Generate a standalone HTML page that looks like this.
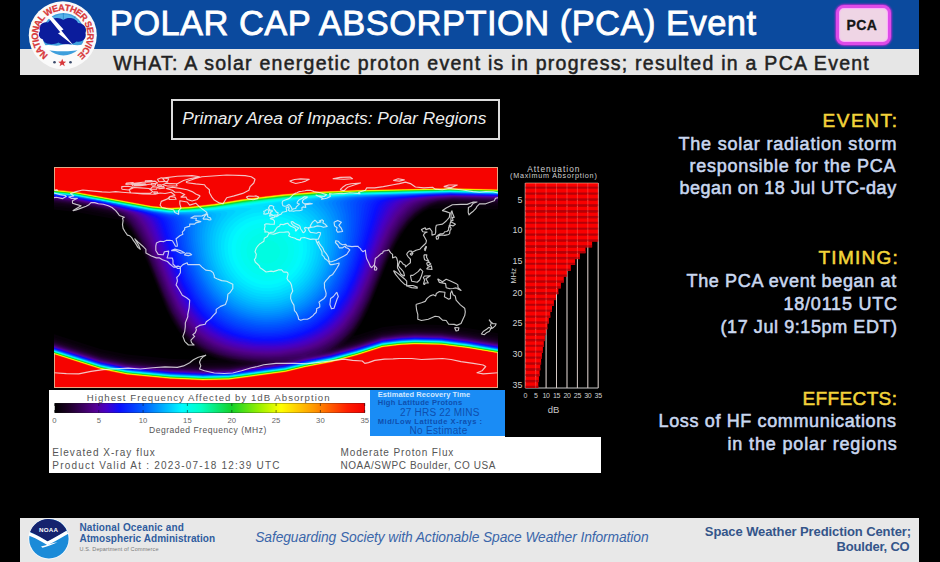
<!DOCTYPE html>
<html><head><meta charset="utf-8">
<style>
*{margin:0;padding:0;box-sizing:border-box}
html,body{width:940px;height:562px;overflow:hidden;background:#000}
body{position:relative;font-family:"Liberation Sans",sans-serif}
.t{position:absolute;white-space:nowrap;line-height:1}
.abs{position:absolute}
#hdr{position:absolute;left:20px;top:0;width:899px;height:49px;background:#0b4a9e}
#sub{position:absolute;left:20px;top:49px;width:899px;height:26px;background:#e6e6e6}
#pca{position:absolute;left:836px;top:5px;width:55px;height:40px;border-radius:8px;background:#efd5e5;border:3px solid #dd4be8;box-shadow:0 0 2px 1px #b02ad0,inset 0 0 1px 1px #ffa8ff}
#impact{position:absolute;left:171px;top:98.5px;width:329px;height:41px;border:2px solid #dcdcdc}
#legend{position:absolute;left:49px;top:390px;width:552px;height:83px;background:#fff}
#cbar{position:absolute;left:54.5px;top:403.4px;width:310.2px;height:9.2px;background:linear-gradient(to right,#000000 0.0%,#1c0026 4.3%,#550091 12.9%,#4600c8 16.6%,#0a0fff 21.0%,#005fff 28.6%,#00b9ff 35.7%,#00faff 40.9%,#00ffc3 47.1%,#14d228 57.1%,#96f000 65.7%,#ffff00 72.9%,#ff9600 83.7%,#ff1e00 94.3%,#f50000 100.0%)}
#rec{position:absolute;left:369.5px;top:390px;width:135.2px;height:46px;background:#1a8cf5}
#blk{position:absolute;left:504.7px;top:390px;width:96.3px;height:46.5px;background:#000}
#foot{position:absolute;left:20px;top:518px;width:899px;height:44px;background:#e8e8e8}
</style></head><body>
<div id="hdr"></div>
<div id="sub"></div>
<svg class="abs" style="left:25px;top:0" width="76" height="72" viewBox="0 0 76 72">
  <circle cx="37.8" cy="35.3" r="34" fill="#fafafa"/>
 <circle cx="38.4" cy="34.2" r="21.2" fill="#3e9fdc"/>
 <path d="M17.3 34.2 A21.2 21.2 0 0 1 59.6 34.2 Z" fill="#56b2e8"/>
 <g stroke="#2a86c8" stroke-width="0.8"><line x1="38.4" y1="13" x2="38.4" y2="24"/><line x1="27" y1="16.5" x2="31" y2="24"/><line x1="50" y1="16.5" x2="46" y2="24"/></g>
 <path d="M15 31 C13 25 18 21 23 22.5 C26 17.5 34 16.5 38.5 20 C43 16.5 51 18 53 23 C59 23 62.5 28.5 60.5 33 C62 38.5 57 43 51.5 41.5 C47 45.5 38 45.5 33.5 42.5 C28 45.5 19 44.5 18 39.5 C13.5 38 13 33.5 15 31 Z" fill="#0b1c9c"/>
 <path d="M18 46 C24 43.5 30 47 36 45 C42 43 50 46.5 58 44.5 L56.5 49 C49 52 28 52 20 49.5 Z" fill="#ffffff"/>
 <path d="M21.5 15.5 L26 15.5 L38.5 29.5 L36.3 30.4 L48.5 45.5 L33 33.3 L35.3 32.2 Z" fill="#ffffff"/>
 <g font-family="Liberation Sans" font-weight="bold" font-size="9.2" fill="#d8383a" stroke="#d8383a" stroke-width="0.25"><text transform="translate(20.79 53.07) rotate(223.7)" text-anchor="middle">N</text><text transform="translate(17.03 48.48) rotate(237.6)" text-anchor="middle">A</text><text transform="translate(14.64 43.60) rotate(250.3)" text-anchor="middle">T</text><text transform="translate(13.72 40.34) rotate(258.2)" text-anchor="middle">I</text><text transform="translate(13.22 36.21) rotate(267.9)" text-anchor="middle">O</text><text transform="translate(13.77 30.04) rotate(282.4)" text-anchor="middle">N</text><text transform="translate(15.73 24.43) rotate(296.2)" text-anchor="middle">A</text><text transform="translate(18.65 19.86) rotate(308.9)" text-anchor="middle">L</text><text transform="translate(24.87 14.37) rotate(328.3)" text-anchor="middle">W</text><text transform="translate(30.99 11.66) rotate(343.9)" text-anchor="middle">E</text><text transform="translate(36.60 10.73) rotate(357.2)" text-anchor="middle">A</text><text transform="translate(42.02 11.06) rotate(369.9)" text-anchor="middle">T</text><text transform="translate(47.24 12.58) rotate(382.6)" text-anchor="middle">H</text><text transform="translate(52.20 15.36) rotate(395.8)" text-anchor="middle">E</text><text transform="translate(56.40 19.19) rotate(409.1)" text-anchor="middle">R</text><text transform="translate(60.40 25.58) rotate(426.7)" text-anchor="middle">S</text><text transform="translate(61.98 30.78) rotate(439.4)" text-anchor="middle">E</text><text transform="translate(62.37 36.45) rotate(452.7)" text-anchor="middle">R</text><text transform="translate(61.45 42.06) rotate(466.0)" text-anchor="middle">V</text><text transform="translate(60.19 45.49) rotate(474.5)" text-anchor="middle">I</text><text transform="translate(58.30 48.91) rotate(483.6)" text-anchor="middle">C</text><text transform="translate(54.62 53.25) rotate(496.9)" text-anchor="middle">E</text></g>
 <path d="M37.2 58.8 L38.3 61.6 L41.2 61.7 L38.9 63.4 L39.8 66.2 L37.2 64.6 L34.6 66.2 L35.5 63.4 L33.2 61.7 L36.1 61.6 Z" fill="#d8383a"/>
 <circle cx="29.5" cy="62.2" r="1.3" fill="#3a4a6a"/><circle cx="45.5" cy="62.2" r="1.3" fill="#3a4a6a"/>
</svg>
<div id="pca"></div>
<div id="impact"></div>
<svg class="abs" style="left:54px;top:167px" width="444" height="221" viewBox="0 0 444 221">
<defs><filter id="mb" x="-5%" y="-5%" width="110%" height="110%" color-interpolation-filters="sRGB"><feGaussianBlur stdDeviation="0.7"/></filter></defs>
<rect width="444" height="221" fill="#000"/>
<g filter="url(#mb)"><path fill="#070009" d="M447.8 225.2L-3.8 225.2L-4.2 224.8L-4.2 188.2L-3.8 167.3L0.2 167.3L47.1 182.2L73.2 187.6L116.2 191.8L148.8 193.2L164.7 192.8L150.8 186.9L140.8 181.0L131.8 173.2L123.8 163.4L117.8 153.7L111.6 141.2L93.5 96.2L86.0 79.8L77.2 64.8L68.8 54.7L66.2 53.1L23.3 45.2L0.2 42.4L-3.8 42.4L-4.2 -3.8L-3.8 -4.2L447.8 -4.2L448.2 -3.8L447.8 42.5L396.2 41.2L375.8 41.7L369.8 44.7L362.9 49.8L357.2 55.1L352.1 61.2L342.2 76.8L334.0 94.2L314.2 143.3L307.8 155.8L299.6 168.8L303.0 168.2L328.2 160.2L345.8 158.1L360.8 157.3L387.2 157.9L413.2 161.1L443.8 166.2L447.8 166.2L448.2 187.2L448.2 224.8L447.8 225.2Z"/><path fill="#0b000f" d="M447.8 225.2L-3.8 225.2L-4.2 224.8L-4.2 188.8L-3.8 170.2L0.2 170.2L47.2 185.2L73.2 190.5L118.1 194.8L149.2 196.1L176.2 195.2L158.2 189.4L146.2 183.6L135.5 175.8L126.2 165.6L119.4 155.2L112.7 142.2L93.3 94.2L85.7 77.8L76.8 62.9L67.8 52.8L62.8 49.6L46.8 46.4L20.8 41.9L-3.8 39.5L-4.2 -3.8L-3.8 -4.2L447.8 -4.2L448.2 -3.8L447.8 39.5L396.2 38.3L381.2 38.7L375.2 40.8L367.8 45.1L361.2 50.2L354.8 56.8L347.4 66.8L340.5 78.8L333.4 94.2L319.2 130.1L312.8 144.8L305.8 157.9L295.6 172.8L302.8 171.2L328.2 163.1L345.8 161.0L360.8 160.2L387.2 160.8L413.2 164.0L443.8 169.1L447.8 169.1L448.2 187.2L448.2 224.8L447.8 225.2Z"/><path fill="#100016" d="M447.8 225.2L-3.8 225.2L-4.2 224.8L-4.2 188.8L-3.8 171.9L0.2 171.9L46.8 186.8L73.2 192.2L115.8 196.3L148.8 197.8L174.8 197.3L182.2 196.3L182.5 195.8L162.2 190.0L149.2 184.5L137.8 176.7L127.8 166.4L120.5 155.8L113.4 142.2L93.6 93.2L85.8 76.4L76.8 61.8L67.8 51.8L61.2 47.7L49.6 45.2L21.0 40.2L-3.8 37.8L-4.2 -3.8L-3.8 -4.2L447.8 -4.2L448.2 -3.8L447.8 37.8L396.2 36.6L383.3 37.2L375.8 39.7L368.4 43.8L361.2 49.2L354.3 56.2L345.9 67.8L338.2 81.9L331.7 96.8L317.3 133.2L309.9 149.2L302.8 161.2L292.6 174.8L292.8 175.3L293.8 175.3L302.8 172.9L328.2 164.8L346.2 162.6L360.8 161.9L387.2 162.5L413.2 165.7L443.8 170.8L447.8 170.8L448.2 187.2L448.2 224.8L447.8 225.2Z"/><path fill="#15001c" d="M447.8 225.2L-3.8 225.2L-4.2 224.8L-4.2 188.2L-3.8 173.1L0.2 173.1L46.8 188.0L73.2 193.4L115.8 197.5L148.8 199.0L174.8 198.5L186.2 197.0L188.3 196.2L165.8 190.4L152.2 185.2L139.8 177.3L129.2 167.1L121.6 156.2L114.1 142.2L93.8 92.2L85.8 75.2L77.2 61.2L68.2 51.2L62.2 47.3L55.8 45.2L21.2 39.1L0.2 36.6L-3.8 36.6L-4.2 -3.8L-3.8 -4.2L447.8 -4.2L448.2 -3.8L447.8 36.6L396.2 35.3L384.4 36.2L376.2 38.7L368.8 42.7L361.2 48.3L354.2 55.3L345.8 66.8L337.9 81.2L331.3 96.2L316.9 132.8L309.1 149.2L301.6 161.8L289.7 176.8L291.2 177.2L302.3 174.2L328.2 166.0L345.8 163.9L360.8 163.1L387.2 163.7L413.2 166.9L443.8 172.0L447.8 172.0L448.2 187.2L448.2 224.8L447.8 225.2Z"/><path fill="#190022" d="M447.8 225.2L-3.8 225.2L-4.2 224.8L-4.2 188.2L-3.8 174.1L0.2 174.1L46.8 188.9L73.2 194.3L115.8 198.5L148.8 200.0L175.2 199.4L191.4 197.2L193.5 196.2L168.8 190.6L154.8 185.6L147.8 181.9L141.5 177.8L135.8 172.9L130.4 167.2L122.4 156.2L114.8 142.2L108.2 127.3L94.0 91.2L86.0 74.2L77.2 60.1L72.8 54.6L68.2 50.3L62.7 46.8L55.4 44.2L21.2 38.1L0.2 35.6L-3.8 35.6L-4.2 -3.8L-3.8 -4.2L447.8 -4.2L448.2 -3.8L447.8 35.7L396.2 34.4L384.8 35.5L376.8 37.8L368.8 41.8L361.2 47.3L354.2 54.2L345.8 65.5L337.8 80.1L331.1 95.2L316.2 132.7L308.1 149.8L299.8 163.0L286.8 178.2L289.2 178.6L302.1 175.2L328.2 167.0L345.8 164.8L360.8 164.0L387.2 164.6L413.2 167.8L443.8 172.9L447.8 172.9L448.2 187.2L448.2 224.8L447.8 225.2Z"/><path fill="#1e002a" d="M447.8 225.2L-3.8 225.2L-4.2 224.8L-4.2 188.8L-3.8 174.8L0.2 174.8L47.0 189.8L73.2 195.1L115.8 199.2L149.2 200.8L175.2 200.1L193.9 197.8L198.8 196.2L196.0 195.2L172.8 191.0L156.2 185.5L147.8 181.1L141.8 177.0L130.9 166.8L122.5 155.2L114.9 141.2L108.0 125.2L94.2 90.3L86.2 73.3L77.2 58.9L68.7 49.8L62.0 45.8L54.2 43.2L20.8 37.3L-3.8 34.9L-4.2 -3.8L-3.8 -4.2L447.8 -4.2L448.2 -3.8L447.8 34.9L396.2 33.7L383.8 35.1L375.8 37.5L368.2 41.3L360.8 46.7L353.2 54.2L344.8 65.8L336.7 80.8L316.1 131.8L308.0 148.8L302.6 157.8L297.6 164.8L285.0 177.8L283.8 179.8L285.2 180.2L287.8 179.8L301.2 176.2L328.2 167.7L345.8 165.6L360.8 164.8L387.2 165.4L413.2 168.6L443.8 173.7L447.8 173.7L448.2 187.2L448.2 224.8L447.8 225.2Z"/><path fill="#230033" d="M447.8 225.2L-3.8 225.2L-4.2 224.8L-4.2 188.8L-3.8 175.5L0.2 175.5L46.8 190.3L73.3 195.8L115.8 199.9L149.2 201.4L175.2 200.8L198.7 197.8L203.8 196.2L201.9 195.2L175.8 191.2L161.9 187.2L154.7 184.2L147.3 180.2L135.8 171.2L126.7 160.8L117.8 145.9L110.2 129.6L91.6 83.2L83.7 67.8L76.2 56.8L71.8 51.8L67.2 47.9L62.3 45.2L56.5 43.2L21.2 36.7L0.2 34.2L-3.8 34.2L-4.2 -3.8L-3.8 -4.2L447.8 -4.2L448.2 -3.8L447.8 34.3L396.8 33.1L383.8 34.6L377.2 36.3L368.8 40.4L360.8 46.1L353.9 52.8L345.9 63.2L337.5 78.2L330.4 94.2L314.8 133.7L305.8 151.8L300.8 159.7L295.2 166.7L280.6 180.8L281.8 181.5L286.9 180.8L303.2 176.3L328.2 168.4L346.2 166.2L360.8 165.4L387.2 166.0L413.8 169.3L443.8 174.4L447.8 174.4L448.2 187.2L448.2 224.8L447.8 225.2Z"/><path fill="#27003c" d="M447.8 225.2L-3.8 225.2L-4.2 224.8L-4.2 188.2L-3.8 176.1L0.2 176.1L48.3 191.2L73.2 196.3L115.8 200.4L148.8 202.0L174.8 201.4L202.6 197.8L209.2 195.8L180.9 191.8L165.1 187.8L150.2 181.2L143.3 176.8L137.2 171.8L127.2 160.4L118.2 145.7L110.2 128.3L91.0 80.8L84.0 67.2L76.5 56.2L71.8 51.0L66.8 47.0L62.5 44.8L56.5 42.8L21.2 36.2L0.2 33.7L-3.8 33.7L-4.2 -3.8L-3.8 -4.2L447.8 -4.2L448.2 -3.8L447.8 33.7L397.8 32.5L383.2 34.1L375.8 36.4L368.2 40.0L361.2 44.9L354.0 51.8L345.5 62.8L337.4 77.2L330.5 92.8L314.8 132.4L304.8 152.4L299.2 160.8L293.2 168.0L286.8 174.2L276.9 182.2L277.2 182.8L278.8 182.9L285.2 181.7L303.2 176.9L328.2 168.9L345.8 166.8L360.8 166.0L387.2 166.6L413.8 169.9L443.8 174.9L447.8 174.9L448.2 187.2L448.2 224.8L447.8 225.2Z"/><path fill="#2c0045" d="M447.8 225.2L-3.8 225.2L-4.2 224.8L-4.2 188.2L-3.8 176.5L0.2 176.5L48.4 191.8L73.2 196.8L115.8 200.9L148.8 202.5L174.8 201.9L206.1 197.8L213.1 196.2L215.1 195.2L186.2 192.0L167.4 187.8L159.1 184.8L151.8 181.2L144.6 176.8L138.2 171.7L128.2 160.6L119.2 146.2L111.2 129.2L91.0 79.2L83.9 65.8L76.7 55.2L72.5 50.8L68.1 47.2L63.7 44.8L56.4 42.2L21.2 35.7L0.2 33.2L-3.8 33.2L-4.2 -3.8L-3.8 -4.2L447.8 -4.2L448.2 -3.8L447.8 33.2L399.2 32.1L384.8 33.4L375.2 36.0L368.2 39.2L360.8 44.3L353.8 50.9L345.0 62.2L337.4 75.8L330.5 91.2L314.2 132.0L304.2 151.9L298.7 160.2L292.2 168.0L286.2 173.7L274.0 183.8L277.2 184.0L285.3 182.2L303.2 177.4L328.2 169.4L345.8 167.3L360.8 166.5L387.2 167.1L413.8 170.4L443.8 175.4L447.8 175.4L448.2 187.2L448.2 224.8L447.8 225.2Z"/><path fill="#31004e" d="M447.8 225.2L-3.8 225.2L-4.2 224.8L-4.2 188.8L-3.8 177.0L0.2 177.0L48.6 192.2L73.2 197.2L115.8 201.4L148.8 202.9L174.8 202.3L206.0 198.2L221.0 195.2L216.7 194.2L188.2 191.6L170.0 187.8L161.2 184.8L153.5 181.2L146.0 176.8L139.6 171.8L129.2 160.6L119.8 145.5L111.2 127.4L91.6 78.8L84.5 65.2L77.3 54.8L73.1 50.2L68.4 46.8L62.2 43.7L56.1 41.8L21.2 35.2L0.2 32.7L-3.8 32.7L-4.2 -3.8L-3.8 -4.2L447.8 -4.2L448.2 -3.8L447.8 32.8L400.2 31.7L385.9 32.8L375.8 35.1L368.2 38.2L360.8 43.2L353.6 49.8L345.0 60.8L337.1 74.8L330.0 90.8L313.8 131.4L303.2 152.1L297.2 160.9L290.8 168.2L283.6 174.8L272.5 182.8L271.3 184.8L276.8 184.8L283.2 183.2L303.2 177.8L328.2 169.9L346.2 167.7L360.8 166.9L387.2 167.5L413.8 170.8L443.8 175.9L447.8 175.9L448.2 187.2L448.2 224.8L447.8 225.2Z"/><path fill="#360057" d="M447.8 225.2L-3.8 225.2L-4.2 224.8L-4.2 188.8L-3.8 177.4L0.2 177.4L49.1 192.8L73.2 197.6L115.8 201.8L148.8 203.3L174.8 202.7L212.1 197.8L228.2 194.8L228.3 194.2L225.2 193.4L193.8 191.5L173.8 187.9L163.8 184.8L155.5 181.2L147.8 176.8L141.0 171.8L135.2 166.2L129.8 159.8L120.2 144.8L111.8 126.7L92.0 77.8L85.0 64.2L78.1 54.2L73.8 49.8L69.6 46.8L57.5 41.8L46.8 39.2L21.2 34.8L0.2 32.3L-3.8 32.3L-4.2 -3.8L-3.8 -4.2L447.8 -4.2L448.2 -3.8L447.8 32.4L399.2 31.3L383.2 32.9L374.2 34.9L367.2 37.8L360.2 42.3L353.2 48.7L344.6 59.8L336.7 73.8L330.0 88.8L313.2 130.7L307.8 142.4L302.2 152.1L295.8 161.4L288.5 169.2L280.8 175.7L268.5 183.8L267.4 185.2L269.8 186.1L278.9 184.8L303.2 178.2L328.2 170.3L345.8 168.1L360.8 167.3L387.2 167.9L413.2 171.1L443.8 176.3L447.8 176.3L448.2 187.2L448.2 224.8L447.8 225.2Z"/><path fill="#3a005f" d="M447.8 225.2L-3.8 225.2L-4.2 224.8L-4.2 188.8L-3.8 177.8L0.2 177.8L47.2 192.7L71.9 197.8L116.2 202.2L148.8 203.7L175.2 203.0L229.8 195.2L233.4 194.2L235.9 192.2L232.8 191.7L216.8 192.0L202.2 191.5L190.1 190.2L178.8 188.2L167.8 185.3L158.7 181.8L150.2 177.2L142.5 171.8L136.6 166.2L130.9 159.8L125.8 152.4L120.8 143.9L112.2 125.8L92.5 76.8L85.5 63.2L78.5 53.2L74.5 49.2L70.0 46.2L57.0 41.2L46.0 38.8L21.2 34.5L0.2 32.0L-3.8 32.0L-4.2 -3.8L-3.8 -4.2L447.8 -4.2L448.2 -3.8L447.8 32.0L398.8 31.0L382.2 32.6L373.2 34.6L366.3 37.2L359.8 41.4L353.2 47.2L344.4 58.2L336.4 72.2L329.5 87.8L312.2 131.0L306.2 143.4L300.2 153.6L292.9 163.2L284.8 171.2L277.2 176.9L261.9 186.2L265.8 187.1L277.2 185.6L302.8 178.7L328.2 170.6L345.8 168.5L360.8 167.7L387.2 168.3L413.2 171.5L443.8 176.6L447.8 176.6L448.2 187.2L448.2 224.8L447.8 225.2Z"/><path fill="#3f0068" d="M447.8 225.2L-3.8 225.2L-4.2 224.8L-4.2 188.2L-3.8 178.1L0.2 178.1L46.8 192.9L72.8 198.3L115.8 202.5L143.1 203.8L174.8 203.4L199.8 200.2L231.2 195.5L248.6 189.2L214.8 191.1L200.2 190.5L186.8 188.9L174.4 186.2L163.6 182.8L154.0 178.2L145.2 172.6L138.8 167.0L132.8 160.5L127.2 153.0L121.8 143.8L112.8 124.8L93.0 75.8L86.0 62.2L79.5 52.8L75.9 49.2L71.4 46.2L64.3 43.2L56.4 40.8L21.2 34.1L0.2 31.6L-3.8 31.6L-4.2 -3.8L-3.8 -4.2L447.8 -4.2L448.2 -3.8L447.8 31.7L398.8 30.7L381.7 32.2L372.2 34.2L365.8 36.5L359.8 40.1L353.6 45.2L344.8 55.9L336.6 69.8L329.6 85.2L310.8 132.2L304.2 145.2L297.8 155.5L289.2 165.8L279.2 174.2L268.2 180.8L251.8 188.2L253.2 188.7L263.2 188.1L276.8 186.0L302.8 179.1L327.8 171.1L346.2 168.8L361.2 168.0L387.2 168.6L413.2 171.9L443.8 177.0L447.8 177.0L448.2 187.2L448.2 224.8L447.8 225.2Z"/><path fill="#440071" d="M226.2 189.8L213.8 190.1L200.8 189.6L188.8 188.3L177.8 186.1L167.9 183.2L158.8 179.5L150.8 175.1L143.2 169.6L137.2 164.0L131.8 157.5L121.8 141.9L113.2 123.7L93.6 74.8L87.0 61.8L80.8 52.6L76.8 48.8L71.7 45.8L55.6 40.2L20.8 33.8L-3.8 31.3L-4.2 -3.8L-3.8 -4.2L213.2 -4.2L447.8 -4.2L448.2 -3.8L447.8 31.4L400.8 30.4L384.8 31.5L374.2 33.1L366.8 35.1L360.8 38.0L355.2 42.1L346.0 52.2L337.5 65.8L329.8 82.2L315.2 119.4L308.8 134.4L300.7 149.2L291.8 161.5L285.6 167.8L278.8 173.2L271.6 177.8L263.2 181.9L247.8 187.0L226.2 189.8ZM447.8 225.2L-3.8 225.2L-4.2 224.8L-4.2 188.2L-3.8 178.4L0.2 178.4L46.8 193.3L73.2 198.6L116.2 202.8L148.8 204.3L174.1 203.8L230.8 196.0L250.8 190.4L277.2 186.3L303.2 179.2L328.2 171.3L345.8 169.2L360.8 168.3L387.2 169.0L413.2 172.2L443.8 177.3L447.8 177.3L448.2 187.2L448.2 224.8L447.8 225.2Z"/><path fill="#49007a" d="M226.2 188.8L213.8 189.2L201.2 188.7L189.2 187.4L178.2 185.2L168.2 182.3L159.6 178.8L151.5 174.2L143.9 168.8L137.8 162.9L132.2 156.5L122.2 140.7L113.8 122.5L94.1 73.2L87.7 60.8L81.9 52.2L78.2 48.8L73.1 45.8L56.8 40.2L21.2 33.5L0.2 31.0L-3.8 31.0L-4.2 -3.8L-3.8 -4.2L213.2 -4.2L447.8 -4.2L448.2 -3.8L447.8 31.1L399.8 30.1L383.5 31.2L373.1 32.8L365.4 34.8L359.9 37.2L354.4 41.2L345.2 51.2L336.8 64.8L329.4 80.8L314.8 118.3L308.2 133.2L300.1 148.2L291.2 160.4L285.2 166.6L278.8 171.9L271.8 176.4L263.8 180.4L255.2 183.6L246.8 186.0L226.2 188.8ZM447.8 225.2L-3.8 225.2L-4.2 224.8L-4.2 188.2L-3.8 178.7L0.2 178.7L46.8 193.5L73.2 198.9L116.2 203.1L148.8 204.6L174.8 204.0L230.8 196.4L251.2 191.0L276.8 186.7L302.8 179.7L328.2 171.6L345.8 169.4L360.8 168.6L387.2 169.2L413.2 172.4L443.8 177.6L447.8 177.6L448.2 187.2L448.2 224.8L447.8 225.2Z"/><path fill="#4d0083" d="M226.2 187.8L214.2 188.2L201.8 187.8L189.8 186.5L178.8 184.3L168.8 181.3L160.1 177.8L152.0 173.2L144.8 167.9L138.8 162.3L133.1 155.8L127.8 148.1L122.8 139.5L114.2 121.3L95.0 72.8L88.5 59.8L83.0 51.8L79.1 48.2L74.5 45.8L55.9 39.8L21.2 33.2L-3.8 30.7L-4.2 -3.8L-3.8 -4.2L213.2 -4.2L447.8 -4.2L448.2 -3.8L447.8 30.8L399.8 29.8L383.2 30.9L373.0 32.2L364.3 34.2L358.5 36.8L353.2 40.5L344.4 50.2L336.3 63.2L328.9 79.2L314.2 117.0L307.8 132.0L299.5 147.2L290.8 159.3L284.8 165.5L278.4 170.8L271.5 175.2L263.8 179.2L255.2 182.4L246.8 184.8L226.2 187.8ZM447.8 225.2L-3.8 225.2L-4.2 224.8L-4.2 188.2L-3.8 179.0L0.2 179.0L46.8 193.8L73.2 199.2L116.2 203.4L148.8 204.9L174.8 204.3L231.2 196.6L251.2 191.5L277.2 186.8L303.2 179.8L328.2 171.9L346.2 169.7L360.8 168.9L387.2 169.5L413.2 172.7L443.8 177.8L447.8 177.8L448.2 187.2L448.2 224.8L447.8 225.2Z"/><path fill="#52008c" d="M226.2 186.8L214.2 187.2L202.2 186.8L190.8 185.6L179.8 183.5L170.2 180.7L161.2 177.0L153.2 172.7L145.8 167.2L139.3 161.2L133.8 154.8L128.2 146.9L123.2 138.2L114.8 119.9L95.6 71.2L89.6 59.2L84.6 51.8L80.6 48.2L76.0 45.8L67.6 42.8L54.9 39.2L21.2 33.0L0.2 30.5L-3.8 30.5L-4.2 -3.8L-3.8 -4.2L213.2 -4.2L447.8 -4.2L448.2 -3.8L447.8 30.6L399.2 29.6L381.7 30.8L370.1 32.2L363.2 33.8L357.0 36.2L352.0 39.8L343.5 49.2L335.5 62.2L328.2 78.2L314.2 114.3L307.2 130.7L299.2 145.8L290.2 158.1L284.4 164.2L278.2 169.4L271.2 174.0L263.8 177.9L255.2 181.2L246.8 183.6L226.2 186.8ZM447.8 225.2L-3.8 225.2L-4.2 224.8L-4.2 188.2L-3.8 179.2L0.2 179.2L47.2 194.2L73.2 199.5L116.2 203.7L148.8 205.1L174.8 204.5L231.2 196.8L250.8 192.0L277.2 187.1L302.8 180.2L328.2 172.1L345.8 170.0L360.8 169.2L387.2 169.8L413.2 173.0L443.8 178.1L447.8 178.1L448.2 187.2L448.2 224.8L447.8 225.2Z"/><path fill="#530096" d="M225.8 185.8L213.8 186.2L201.8 185.8L190.2 184.5L179.8 182.4L170.2 179.5L161.2 175.8L153.3 171.2L146.4 166.2L140.0 160.2L134.2 153.5L128.9 145.8L123.8 136.9L114.8 117.3L96.4 70.2L90.8 58.8L86.1 51.8L82.2 48.2L77.4 45.8L68.8 42.8L55.2 39.1L21.2 32.8L-3.8 30.2L-4.2 -3.8L-3.8 -4.2L213.2 -4.2L447.8 -4.2L448.2 -3.8L447.8 30.3L399.2 29.3L380.8 30.5L369.8 31.8L360.7 33.8L355.2 35.9L350.4 39.2L342.5 48.2L334.8 61.0L327.6 76.8L313.8 112.9L306.8 129.3L298.5 144.8L289.8 156.9L284.2 162.8L277.8 168.3L270.8 172.9L263.2 176.8L254.8 180.2L245.8 182.7L225.8 185.8ZM447.8 225.2L-3.8 225.2L-4.2 224.8L-4.2 188.2L-3.8 179.5L0.2 179.5L46.8 194.3L73.2 199.7L116.2 203.9L148.8 205.4L174.8 204.8L231.2 197.1L251.2 192.2L277.2 187.3L303.2 180.3L328.2 172.3L346.2 170.2L360.8 169.4L387.2 170.0L413.2 173.2L443.8 178.3L447.8 178.3L448.2 187.2L448.2 224.8L447.8 225.2Z"/><path fill="#5000a0" d="M224.8 184.8L213.2 185.2L201.8 184.7L190.8 183.5L180.2 181.3L170.8 178.5L162.2 174.9L154.2 170.4L147.2 165.3L140.8 159.3L134.8 152.2L129.3 144.2L124.2 135.5L115.3 115.8L97.0 68.8L91.5 57.2L87.3 51.2L83.7 48.2L77.5 45.2L54.7 38.8L21.2 32.5L0.2 30.0L-3.8 30.0L-4.2 -3.8L-3.8 -4.2L213.2 -4.2L447.8 -4.2L448.2 -3.8L447.8 30.1L399.2 29.1L380.3 30.2L367.1 31.8L359.7 33.2L354.1 35.2L349.2 38.3L341.7 46.8L333.9 59.8L326.9 75.2L313.2 111.3L306.2 127.8L298.1 143.2L289.1 155.8L283.2 162.0L276.8 167.5L269.8 172.1L262.2 176.0L253.8 179.2L244.9 181.8L224.8 184.8ZM447.8 225.2L-3.8 225.2L-4.2 224.8L-4.2 188.2L-3.8 179.7L0.2 179.7L46.8 194.5L73.2 199.9L116.2 204.1L148.8 205.6L174.8 205.0L231.2 197.3L251.2 192.4L277.2 187.5L302.8 180.7L328.2 172.6L345.8 170.4L360.8 169.6L387.2 170.2L413.2 173.4L443.8 178.5L447.8 178.5L448.2 187.2L448.2 224.8L447.8 225.2Z"/><path fill="#4d00ab" d="M223.8 183.8L212.2 184.1L201.2 183.6L190.8 182.3L180.6 180.2L171.2 177.4L162.8 173.8L155.2 169.6L148.2 164.5L141.8 158.5L135.8 151.5L130.2 143.6L124.9 134.2L115.8 114.2L97.8 67.2L92.8 56.8L89.0 51.2L85.3 48.2L78.9 45.2L53.5 38.2L20.8 32.2L-3.8 29.8L-4.2 -3.8L-3.8 -4.2L213.2 -4.2L447.8 -4.2L448.2 -3.8L447.8 29.9L401.2 28.9L378.8 30.1L367.6 31.2L357.8 33.0L351.5 35.2L347.2 38.1L340.2 46.1L333.1 58.2L326.5 73.2L312.7 109.8L305.8 126.3L297.3 142.2L288.4 154.8L282.7 160.8L276.2 166.3L269.2 171.0L261.2 175.1L252.8 178.3L243.8 180.8L223.8 183.8ZM447.8 225.2L-3.8 225.2L-4.2 224.8L-4.2 188.8L-3.8 179.9L0.2 179.9L46.8 194.8L73.2 200.1L116.2 204.3L148.8 205.8L174.0 205.2L231.2 197.6L251.2 192.7L277.2 187.8L303.2 180.8L328.2 172.8L345.8 170.7L360.8 169.8L387.2 170.5L413.2 173.7L443.8 178.8L447.8 178.8L448.2 187.2L448.2 224.8L447.8 225.2Z"/><path fill="#4a00b6" d="M222.2 182.8L211.2 183.0L200.2 182.4L189.8 181.0L180.2 179.0L171.7 176.2L163.2 172.6L155.8 168.4L148.8 163.3L142.2 157.2L136.2 150.2L130.8 142.2L125.4 132.8L116.4 112.8L98.6 65.8L94.1 56.2L90.6 51.2L86.9 48.2L80.3 45.2L53.8 38.1L21.2 32.1L0.2 29.6L-3.8 29.6L-4.2 -3.8L-3.8 -4.2L213.2 -4.2L447.8 -4.2L448.2 -3.8L447.8 29.7L401.8 28.7L379.4 29.8L364.4 31.2L356.1 32.8L350.0 34.8L345.2 37.7L338.9 45.2L332.3 56.8L325.9 71.2L312.2 107.9L305.2 124.8L296.8 141.0L287.8 153.6L281.8 159.9L275.2 165.4L268.0 170.2L260.2 174.2L251.8 177.4L242.8 179.9L232.8 181.7L222.2 182.8ZM447.8 225.2L-3.8 225.2L-4.2 224.8L-4.2 188.8L-3.8 180.1L0.2 180.1L46.8 194.9L73.2 200.4L116.2 204.5L148.8 206.0L174.8 205.4L231.2 197.8L251.2 192.9L277.2 188.0L302.8 181.1L328.2 173.0L345.8 170.9L360.8 170.0L387.2 170.7L413.2 173.9L443.8 179.0L447.8 179.0L448.2 187.2L448.2 224.8L447.8 225.2Z"/><path fill="#4800c0" d="M219.8 181.8L199.2 181.2L189.2 179.8L179.8 177.6L171.2 174.8L163.3 171.2L156.2 167.2L149.6 162.2L143.1 156.2L137.1 149.2L131.6 141.2L126.2 131.8L117.2 111.8L99.4 64.2L95.5 55.8L92.3 51.2L88.5 48.2L81.6 45.2L52.8 37.7L20.8 31.8L-3.8 29.4L-4.2 -3.8L-3.8 -4.2L213.2 -4.2L447.8 -4.2L448.2 -3.8L447.8 29.5L396.2 28.5L375.9 29.8L361.4 31.2L353.2 32.8L347.3 34.8L343.4 37.2L336.8 45.5L329.5 59.2L323.5 73.8L309.9 110.8L302.2 128.4L294.8 141.9L286.8 152.8L280.6 159.2L274.0 164.8L266.8 169.5L258.8 173.4L249.8 176.8L240.2 179.2L230.2 180.9L219.8 181.8ZM447.8 225.2L-3.8 225.2L-4.2 224.8L-4.2 188.2L-3.8 180.3L0.2 180.3L47.1 195.2L73.2 200.5L116.2 204.7L148.8 206.2L174.8 205.6L231.2 198.0L251.2 193.1L277.2 188.2L302.9 181.2L328.2 173.2L345.8 171.1L360.8 170.2L387.2 170.9L413.2 174.1L443.8 179.2L447.8 179.2L448.2 187.2L448.2 224.8L447.8 225.2Z"/><path fill="#4300ca" d="M213.8 180.8L194.8 179.5L177.8 175.7L162.8 169.5L155.8 165.3L149.8 160.7L143.2 154.5L137.2 147.3L131.8 139.2L126.5 129.8L117.3 108.8L100.2 62.5L96.9 55.2L94.0 51.2L90.0 48.2L82.9 45.2L51.8 37.3L21.2 31.7L-3.8 29.2L-4.2 -3.8L-3.8 -4.2L213.2 -4.2L447.8 -4.2L448.2 -3.8L447.8 29.3L396.2 28.3L378.8 29.3L362.1 30.8L352.5 32.2L345.8 34.2L341.5 36.8L335.4 44.2L328.5 57.8L309.3 109.2L301.5 127.2L293.4 141.8L284.8 153.1L278.2 159.6L271.2 165.1L263.5 169.8L255.2 173.5L245.8 176.6L235.8 178.9L224.8 180.3L213.8 180.8ZM447.8 225.2L-3.8 225.2L-4.2 224.8L-4.2 188.2L-3.8 180.5L0.2 180.5L46.8 195.3L73.2 200.7L116.2 204.9L148.8 206.4L174.8 205.8L231.2 198.1L250.8 193.4L277.2 188.3L303.2 181.3L328.2 173.4L346.2 171.2L360.8 170.4L387.2 171.0L413.8 174.3L443.8 179.4L447.8 179.4L448.2 187.2L448.2 224.8L447.8 225.2Z"/><path fill="#3903d3" d="M222.2 179.3L201.8 179.1L191.8 177.8L182.5 175.8L173.8 173.0L165.8 169.6L158.2 165.3L151.8 160.6L144.9 154.2L138.8 147.1L133.0 138.8L127.6 129.2L118.2 108.0L101.1 60.8L98.3 54.8L95.8 51.2L91.6 48.2L84.2 45.2L54.7 37.8L21.2 31.6L-3.8 29.0L-4.2 -3.8L-3.8 -4.2L213.2 -4.2L447.8 -4.2L448.2 -3.8L447.8 29.1L396.2 28.2L375.8 29.2L351.8 31.8L344.2 33.8L339.6 36.2L334.2 42.8L327.7 55.8L309.2 106.0L301.8 123.9L294.2 138.0L286.2 149.3L280.4 155.8L274.2 161.2L267.2 166.1L259.5 170.2L251.2 173.6L242.2 176.3L232.2 178.2L222.2 179.3ZM447.8 225.2L-3.8 225.2L-4.2 188.2L-3.8 180.7L0.2 180.7L46.8 195.5L73.2 200.9L116.2 205.1L148.8 206.6L174.8 206.0L231.2 198.3L251.2 193.5L277.2 188.5L302.8 181.7L328.2 173.6L345.8 171.4L360.8 170.6L387.2 171.2L413.2 174.4L443.8 179.5L447.8 179.5L448.2 187.2L447.8 225.2Z"/><path fill="#2f05dc" d="M218.8 178.3L199.2 177.6L181.2 174.1L173.2 171.4L165.8 168.1L158.8 164.0L152.3 159.2L145.3 152.8L139.2 145.6L133.5 137.2L128.0 127.2L118.7 105.8L102.4 59.8L100.1 54.8L98.0 51.8L94.0 48.8L87.0 45.8L60.0 38.8L21.2 31.4L-3.8 28.9L-4.2 -3.8L-3.8 -4.2L213.2 -4.2L447.8 -4.2L448.2 -3.8L447.8 28.9L396.2 28.0L372.3 29.2L348.8 31.8L341.4 33.8L336.9 36.2L332.3 42.2L326.5 54.2L308.8 103.8L301.2 122.1L293.5 136.8L285.0 148.8L279.0 155.2L272.2 161.0L265.2 165.8L257.2 169.8L248.8 173.1L239.2 175.7L229.2 177.4L218.8 178.3ZM447.8 225.1L-3.8 225.1L-3.8 181.2L-3.8 180.8L0.2 180.8L46.8 195.7L73.2 201.1L116.2 205.3L148.8 206.8L174.8 206.2L231.2 198.5L251.2 193.7L277.2 188.7L303.0 181.8L328.2 173.7L345.8 171.6L360.8 170.8L387.2 171.4L413.2 174.6L443.8 179.7L447.8 179.7L447.8 225.1Z"/><path fill="#2607e5" d="M223.2 176.8L203.4 176.8L184.8 173.7L176.2 171.1L168.2 167.8L160.9 163.8L154.2 159.1L147.2 152.8L140.8 145.4L134.8 136.7L129.1 126.8L119.2 103.8L103.7 58.8L99.8 51.8L95.6 48.8L88.3 45.8L58.5 38.2L21.2 31.2L-3.8 28.7L-4.1 -3.8L448.1 -3.8L447.8 28.8L396.2 27.8L376.5 28.8L347.8 31.5L339.9 33.2L334.9 35.8L330.8 40.9L325.5 52.2L308.8 100.3L301.2 119.1L293.8 133.8L285.7 145.8L280.0 152.2L273.8 158.0L266.8 163.2L259.5 167.2L251.5 170.8L242.8 173.5L233.2 175.5L223.2 176.8ZM447.8 225.1L-3.8 225.1L-3.8 181.2L0.2 181.0L46.8 195.8L73.2 201.3L116.2 205.4L148.8 206.9L174.8 206.3L231.2 198.7L250.8 194.0L277.2 188.9L303.2 181.8L328.2 173.9L345.8 171.8L360.8 170.9L387.2 171.6L413.8 174.8L443.8 179.9L447.8 179.9L447.8 225.1Z"/><path fill="#1c0aee" d="M218.8 175.8L200.2 175.2L182.8 171.8L167.8 166.0L161.2 162.2L154.8 157.7L147.8 151.3L141.2 143.8L135.2 135.0L129.8 125.1L119.8 101.8L105.1 57.8L101.7 51.8L97.2 48.8L89.5 45.8L59.3 38.2L21.2 31.1L-3.8 28.6L-4.1 -3.8L448.1 -3.8L447.8 28.6L396.2 27.6L373.0 28.8L343.0 31.8L336.9 33.2L332.2 35.8L328.7 40.2L324.3 50.2L308.5 97.2L300.9 116.8L292.8 132.9L283.9 145.8L277.8 152.5L271.2 158.2L264.2 163.1L256.4 167.2L247.8 170.6L238.8 173.1L228.8 174.9L218.8 175.8ZM447.8 225.1L-3.8 225.1L-3.8 181.8L-3.8 181.2L0.2 181.2L46.8 196.0L73.2 201.4L116.2 205.6L148.8 207.1L174.8 206.5L231.2 198.8L251.2 194.0L277.2 189.0L302.8 182.2L328.2 174.0L345.8 171.9L360.8 171.1L387.2 171.7L413.2 174.9L443.8 180.0L447.8 180.0L447.8 225.1Z"/><path fill="#120cf7" d="M222.2 174.3L203.2 174.2L185.2 171.1L177.2 168.6L169.4 165.2L162.3 161.2L155.9 156.8L148.8 150.3L142.2 142.8L136.2 134.1L130.5 123.8L120.5 99.8L106.7 57.2L103.5 51.8L99.9 49.2L90.7 45.8L57.8 37.8L21.2 30.9L-3.8 28.4L-4.1 -3.8L448.1 -3.8L447.8 28.5L396.2 27.5L370.8 28.7L342.2 31.4L334.8 33.0L330.1 35.2L326.8 39.2L323.6 46.8L308.2 94.0L300.8 113.9L292.8 130.2L284.2 143.1L278.5 149.8L272.2 155.6L265.3 160.8L258.2 164.8L250.2 168.3L241.2 171.2L231.8 173.2L222.2 174.3ZM447.8 225.1L-3.8 225.1L-3.8 181.8L-3.8 181.3L0.2 181.3L46.8 196.2L73.2 201.6L116.2 205.8L148.8 207.2L174.8 206.6L231.2 199.0L251.2 194.2L277.2 189.2L302.9 182.2L328.2 174.2L345.8 172.1L360.8 171.3L387.2 171.9L413.2 175.1L443.8 180.2L447.8 180.2L447.8 225.1Z"/><path fill="#090fff" d="M216.2 173.3L205.8 173.0L195.8 171.9L186.2 169.9L177.2 167.1L168.8 163.3L161.2 158.9L154.2 153.5L147.8 147.2L137.7 133.8L128.7 116.8L120.2 94.8L108.5 57.2L107.0 53.8L104.9 51.2L100.6 48.8L88.4 44.8L49.1 35.8L21.2 30.8L-3.8 28.3L-4.1 -3.8L448.1 -3.8L447.8 28.3L396.2 27.3L371.8 28.4L339.6 31.2L332.4 32.8L327.2 35.2L324.8 38.2L322.2 44.2L308.1 90.2L300.2 111.8L291.8 129.3L282.3 143.2L276.2 150.0L269.8 155.8L262.2 160.9L254.2 165.1L245.8 168.4L236.2 170.9L226.2 172.6L216.2 173.3ZM447.8 225.1L-3.8 225.1L-3.8 181.8L0.2 181.5L46.8 196.3L73.2 201.7L116.2 205.9L148.8 207.4L174.8 206.8L231.2 199.1L250.8 194.4L277.2 189.3L303.2 182.3L328.2 174.4L346.2 172.2L360.8 171.4L387.2 172.0L413.2 175.2L443.8 180.3L447.8 180.3L447.8 225.1Z"/><path fill="#0817ff" d="M220.2 171.8L209.8 171.9L199.2 171.1L189.2 169.3L179.8 166.5L171.2 162.9L163.2 158.4L156.2 153.2L149.3 146.8L143.9 140.2L138.8 132.9L129.7 115.8L121.0 92.8L110.3 56.8L108.9 53.8L106.8 51.2L102.3 48.8L89.5 44.8L47.4 35.2L20.8 30.6L-3.8 28.1L-4.1 -3.8L448.1 -3.8L447.8 28.2L396.2 27.2L371.4 28.2L337.2 31.1L329.3 32.8L325.0 34.8L322.7 37.2L320.7 41.8L308.2 85.2L300.2 108.2L291.9 126.2L282.9 140.2L276.9 147.2L270.8 153.0L263.8 158.2L256.2 162.6L248.2 166.0L239.2 168.8L229.8 170.7L220.2 171.8ZM447.8 225.1L-3.8 225.1L-3.8 182.2L-3.8 181.6L0.2 181.6L46.8 196.4L73.2 201.8L116.2 206.0L148.8 207.5L174.8 206.9L231.2 199.3L251.2 194.5L277.2 189.5L302.8 182.6L328.2 174.5L345.8 172.4L360.8 171.5L387.2 172.2L413.2 175.4L443.8 180.5L447.8 180.5L447.8 225.1Z"/><path fill="#081eff" d="M221.8 170.3L211.2 170.6L200.8 169.9L190.8 168.2L181.2 165.5L172.8 162.0L164.8 157.6L157.4 152.2L150.8 146.1L145.2 139.7L140.0 132.2L130.8 114.7L122.0 91.2L112.0 56.2L110.6 53.2L108.7 51.2L102.7 48.2L90.5 44.8L48.1 35.2L20.8 30.4L-3.8 28.0L-4.1 -3.8L448.1 -3.8L447.8 28.0L396.2 27.0L368.0 28.2L334.8 31.0L326.2 32.8L322.1 34.8L319.9 37.2L318.5 40.8L308.1 80.2L300.1 104.8L291.9 123.2L282.8 138.0L276.8 145.2L270.8 151.1L264.1 156.2L256.8 160.7L248.8 164.3L240.2 167.1L231.2 169.1L221.8 170.3ZM447.8 225.1L-3.8 225.1L-3.8 182.2L-3.8 181.8L0.2 181.8L46.8 196.6L73.2 202.0L116.2 206.2L148.8 207.7L174.8 207.1L231.2 199.4L251.2 194.6L277.2 189.6L302.8 182.7L328.2 174.6L345.8 172.5L360.8 171.7L387.2 172.3L413.2 175.5L443.8 180.6L447.8 180.6L447.8 225.1Z"/><path fill="#0726ff" d="M222.8 168.8L212.2 169.2L201.8 168.6L191.8 166.9L182.2 164.3L173.8 160.9L165.8 156.5L158.5 151.2L151.8 145.0L146.0 138.2L140.8 130.8L131.6 113.2L122.9 89.2L114.0 56.2L112.5 53.2L110.7 51.2L104.4 48.2L91.5 44.8L48.7 35.2L20.8 30.3L-3.8 27.9L-4.1 -3.8L448.1 -3.8L447.8 27.9L396.2 26.9L364.7 28.2L332.2 30.9L323.8 32.5L319.1 34.8L317.4 36.8L316.2 39.8L307.8 75.8L299.9 101.2L291.8 120.4L282.6 135.8L277.0 142.8L271.1 148.8L264.3 154.2L257.2 158.7L249.8 162.3L241.2 165.3L232.2 167.5L222.8 168.8ZM447.8 225.1L-3.8 225.1L-3.8 182.2L0.2 181.9L46.9 196.8L73.2 202.1L116.2 206.3L148.8 207.8L174.8 207.2L231.2 199.5L250.8 194.9L277.2 189.7L303.2 182.8L328.2 174.8L345.8 172.6L360.8 171.8L387.2 172.4L413.2 175.6L443.8 180.7L447.8 180.7L447.8 225.1Z"/><path fill="#062dff" d="M215.8 167.8L205.8 167.5L196.2 166.3L187.2 164.3L178.8 161.4L171.0 157.8L163.7 153.2L156.8 147.8L150.8 141.6L140.7 127.8L131.9 110.2L123.8 87.1L116.0 56.2L114.6 53.2L112.6 51.2L108.9 49.2L102.5 47.2L46.9 34.8L20.8 30.2L-3.8 27.7L-4.1 -3.8L448.1 -3.8L447.8 27.8L396.2 26.7L371.0 27.8L329.8 30.7L321.5 32.2L316.7 34.2L314.8 36.2L313.8 38.8L307.0 72.2L298.7 100.2L290.2 120.2L285.5 128.8L280.2 136.4L274.2 143.5L267.8 149.6L260.8 154.8L252.8 159.2L244.2 162.8L235.2 165.4L225.8 167.0L215.8 167.8ZM447.8 225.1L-3.8 225.1L-3.8 182.8L-3.8 182.0L0.2 182.0L46.8 196.8L73.2 202.3L116.2 206.4L148.8 207.9L174.8 207.3L231.2 199.7L250.8 195.0L277.2 189.9L303.2 182.8L328.2 174.9L345.8 172.8L360.8 171.9L387.2 172.6L413.8 175.8L443.8 180.9L447.8 180.9L447.8 225.1Z"/><path fill="#0535ff" d="M217.2 166.3L207.8 166.2L198.2 165.2L189.1 163.2L180.2 160.4L172.2 156.7L165.0 152.2L158.2 146.9L152.0 140.8L146.8 134.2L141.8 126.8L133.2 109.7L125.1 86.2L117.9 55.8L116.7 53.2L114.6 51.2L110.8 49.2L104.1 47.2L47.5 34.8L20.8 30.0L-3.8 27.6L-4.1 -3.8L448.1 -3.8L447.8 27.7L396.2 26.6L367.7 27.8L327.8 30.6L318.2 32.2L313.6 34.2L312.2 35.8L311.1 38.2L306.1 68.2L302.6 82.8L298.4 96.8L289.8 117.8L285.2 126.2L280.0 134.2L274.2 141.2L267.8 147.6L260.8 152.9L253.2 157.3L245.2 160.8L236.2 163.6L226.8 165.4L217.2 166.3ZM447.8 225.1L-3.8 225.1L-3.8 182.8L-3.8 182.1L0.2 182.1L46.8 197.0L73.2 202.4L116.2 206.6L148.8 208.0L174.8 207.5L231.2 199.8L251.2 195.0L277.2 190.0L302.8 183.1L328.2 175.0L345.8 172.9L360.8 172.1L387.2 172.7L413.2 175.9L443.8 181.0L447.8 181.0L447.8 225.1Z"/><path fill="#043dff" d="M217.8 164.8L208.2 164.7L198.8 163.7L189.4 161.8L180.8 158.9L172.9 155.2L165.6 150.8L158.8 145.3L152.8 139.2L147.2 132.3L142.4 124.8L133.8 107.0L126.1 83.8L120.0 55.8L118.9 53.2L117.5 51.8L112.6 49.2L105.7 47.2L48.1 34.8L20.8 29.9L-3.8 27.5L-4.1 -3.8L448.1 -3.8L447.8 27.5L396.2 26.5L364.5 27.8L325.2 30.4L314.9 32.2L310.5 34.2L308.3 37.8L304.9 65.2L301.8 79.6L297.9 93.2L289.6 114.8L284.9 123.8L279.8 131.9L273.9 139.2L267.8 145.5L261.1 150.8L253.8 155.3L245.8 159.0L236.8 161.9L227.2 163.8L217.8 164.8ZM447.8 225.1L-3.8 225.1L-3.8 182.8L-3.8 182.3L0.2 182.3L46.8 197.1L73.2 202.5L116.2 206.7L148.8 208.2L174.8 207.6L231.2 199.9L251.2 195.1L277.2 190.1L302.8 183.2L328.2 175.1L345.8 173.0L360.8 172.2L387.2 172.8L413.2 176.0L443.8 181.1L447.8 181.1L447.8 225.1Z"/><path fill="#0344ff" d="M217.2 163.3L207.8 163.2L198.8 162.2L189.8 160.2L181.2 157.4L173.5 153.8L166.2 149.2L159.8 144.0L153.6 137.8L148.2 131.0L143.3 123.2L134.7 105.2L127.4 82.2L122.0 55.2L119.8 51.6L114.4 49.2L107.2 47.2L46.8 34.4L20.8 29.8L-3.8 27.4L-4.1 -3.8L448.1 -3.8L447.8 27.4L396.2 26.3L372.0 27.2L323.1 30.2L313.4 31.8L307.8 33.9L306.3 35.2L305.5 37.2L304.7 51.8L303.3 63.2L300.7 76.8L297.0 90.8L293.2 102.2L288.9 112.8L284.2 121.9L279.0 130.2L273.2 137.6L267.2 143.8L260.2 149.4L252.8 154.0L244.5 157.8L235.8 160.6L226.8 162.4L217.2 163.3ZM447.8 225.1L-3.8 225.1L-3.8 183.2L-3.8 182.4L0.2 182.4L46.8 197.2L73.2 202.6L116.2 206.8L148.8 208.3L174.8 207.7L231.2 200.0L250.8 195.4L277.2 190.2L303.1 183.2L328.2 175.3L345.8 173.1L360.8 172.3L387.2 172.9L413.2 176.1L443.8 181.2L447.8 181.2L447.8 225.1Z"/><path fill="#024cff" d="M215.8 161.8L206.8 161.5L197.8 160.4L188.8 158.3L180.8 155.4L173.2 151.7L166.2 147.2L159.8 141.8L153.8 135.5L148.6 128.8L143.8 120.9L135.6 103.2L128.7 80.8L124.1 54.8L121.8 51.2L118.5 49.8L108.8 47.2L46.8 34.2L20.8 29.7L-3.8 27.2L-4.1 -3.8L448.1 -3.8L447.8 27.3L396.2 26.2L368.7 27.2L319.5 30.2L309.9 31.8L304.6 33.8L303.1 35.2L302.4 37.2L302.4 50.2L301.5 61.2L299.3 74.8L296.1 88.2L292.4 99.8L288.2 110.3L283.4 120.2L278.1 128.8L272.3 136.2L266.2 142.5L259.2 148.1L251.8 152.7L243.8 156.3L234.8 159.2L225.2 161.0L215.8 161.8ZM447.8 225.1L-3.8 225.1L-3.8 183.2L-3.8 182.5L0.2 182.5L46.8 197.3L73.2 202.7L116.2 206.9L148.8 208.4L174.8 207.8L231.2 200.1L250.8 195.5L277.2 190.3L303.2 183.3L328.2 175.4L346.2 173.2L360.8 172.4L387.2 173.0L414.2 176.4L443.8 181.3L447.8 181.3L447.8 225.1Z"/><path fill="#0153ff" d="M222.2 159.8L212.8 160.2L203.2 159.6L194.2 158.1L185.2 155.4L177.2 152.0L169.8 147.6L162.8 142.2L156.6 136.2L151.2 129.6L146.1 121.8L141.3 112.8L137.2 103.1L133.4 91.8L130.4 80.2L126.4 54.8L124.2 51.1L119.6 49.2L47.2 34.2L20.8 29.6L-3.8 27.1L-4.1 -3.8L448.1 -3.8L447.8 27.2L396.2 26.1L365.6 27.2L316.2 30.2L306.4 31.8L301.2 33.8L299.8 35.2L299.3 37.2L300.0 49.2L299.7 58.8L298.2 70.8L295.6 83.2L292.4 94.8L288.7 105.2L284.2 115.2L279.2 124.1L273.9 131.8L268.2 138.2L262.2 143.8L255.2 148.8L247.8 152.8L239.8 156.0L231.2 158.3L222.2 159.8ZM447.8 225.1L-3.8 225.1L-3.8 183.2L-3.8 182.6L0.2 182.6L46.8 197.4L73.2 202.8L116.2 207.0L148.8 208.5L174.8 207.9L231.2 200.3L251.2 195.5L277.2 190.4L302.8 183.6L328.2 175.5L345.8 173.3L360.8 172.5L387.2 173.1L413.2 176.4L443.8 181.5L447.8 181.5L447.8 225.1Z"/><path fill="#005bff" d="M220.8 158.3L211.2 158.6L202.2 157.9L193.2 156.1L184.8 153.5L176.8 149.8L169.8 145.6L163.1 140.2L156.8 133.8L151.2 126.8L146.5 119.2L142.2 110.8L138.2 101.1L134.7 90.2L131.9 78.8L128.7 54.2L127.9 52.2L126.4 50.8L121.8 49.0L98.2 44.8L45.3 33.8L20.8 29.5L-3.8 27.0L-4.1 -3.8L448.1 -3.8L447.8 27.1L396.2 26.0L362.4 27.2L313.8 30.1L302.8 31.8L297.9 33.8L296.5 35.2L296.1 36.8L297.4 48.8L297.5 57.8L296.5 69.2L294.3 81.2L291.3 92.8L287.5 103.8L283.1 113.8L278.2 122.6L272.9 130.2L267.2 136.8L260.8 142.7L253.8 147.7L246.2 151.7L238.2 154.8L229.8 157.0L220.8 158.3ZM447.8 225.1L-3.8 225.1L-3.9 183.8L-3.8 182.7L0.2 182.7L46.8 197.5L73.2 202.9L116.2 207.1L148.8 208.6L174.8 208.0L231.2 200.4L251.2 195.6L277.2 190.6L302.8 183.7L328.2 175.6L345.8 173.5L360.8 172.6L387.2 173.3L413.2 176.5L443.8 181.6L447.8 181.6L447.8 225.1Z"/><path fill="#0063ff" d="M218.8 156.8L209.8 156.9L200.8 156.0L192.2 154.1L184.2 151.4L176.5 147.8L169.5 143.2L163.2 138.1L157.2 131.8L151.9 124.8L147.2 117.1L142.9 108.2L139.2 98.8L135.8 87.8L133.4 76.8L131.1 54.2L129.1 50.8L123.9 48.8L97.8 44.6L43.1 33.2L20.8 29.4L-3.8 26.9L-4.1 -3.8L448.1 -3.8L447.8 27.0L396.2 25.9L359.4 27.2L311.8 29.9L301.6 31.2L294.5 33.8L293.1 35.2L292.7 37.2L294.9 49.2L295.2 59.8L292.8 79.2L290.1 90.8L286.5 101.8L282.2 111.8L277.1 121.2L271.8 129.0L265.9 135.8L259.8 141.3L252.8 146.3L245.2 150.2L236.8 153.5L227.8 155.7L218.8 156.8ZM447.8 225.1L-3.8 225.1L-3.8 183.8L-3.8 182.8L0.2 182.8L46.8 197.7L73.2 203.1L116.2 207.2L148.8 208.7L174.8 208.1L231.2 200.5L251.2 195.7L277.2 190.7L302.9 183.8L328.2 175.7L345.8 173.6L360.8 172.8L387.2 173.4L413.2 176.6L443.8 181.7L447.8 181.7L447.8 225.1Z"/><path fill="#006cff" d="M221.8 154.8L212.8 155.2L203.8 154.6L195.2 153.1L186.8 150.5L178.8 146.9L171.8 142.7L165.2 137.5L159.1 131.2L153.7 124.2L148.8 116.3L144.5 107.8L140.8 98.2L137.6 87.2L135.3 76.2L134.1 66.8L133.5 53.8L132.8 51.8L131.3 50.2L126.2 48.5L115.8 47.5L98.2 44.5L47.2 33.9L26.6 30.2L0.2 26.8L-3.8 26.8L-4.1 -3.8L448.1 -3.8L447.8 26.9L395.8 25.8L333.5 28.2L303.2 30.4L296.2 31.8L291.0 33.8L289.6 35.2L289.3 37.2L292.1 48.2L292.9 58.2L291.4 76.2L289.2 87.2L285.9 98.2L281.8 108.7L277.2 117.8L272.2 125.4L266.8 132.3L260.7 138.2L253.8 143.5L246.4 147.8L238.8 151.0L230.2 153.4L221.8 154.8ZM447.8 225.1L-3.8 225.1L-3.8 183.8L-3.8 182.9L0.2 182.9L46.8 197.8L73.2 203.2L116.2 207.3L148.8 208.8L174.8 208.2L231.2 200.6L250.8 195.9L277.2 190.8L303.2 183.8L328.2 175.8L345.8 173.7L360.8 172.9L387.2 173.5L413.2 176.7L443.8 181.8L447.8 181.8L447.8 225.1Z"/><path fill="#0075ff" d="M219.2 153.3L210.8 153.4L202.2 152.7L193.8 150.9L185.8 148.2L178.2 144.6L171.5 140.2L165.2 135.1L159.2 128.7L154.1 121.8L149.4 113.8L145.2 105.0L141.9 95.8L137.6 78.2L136.3 67.2L136.0 53.8L135.5 51.8L134.2 50.2L128.4 48.2L115.8 47.2L98.2 44.3L47.0 33.8L21.4 29.2L0.2 26.7L-3.8 26.7L-4.1 -3.8L448.1 -3.8L447.8 26.8L395.8 25.7L329.4 28.2L301.2 30.2L292.8 31.8L287.3 33.8L286.0 35.2L285.8 37.2L289.2 47.8L290.5 57.2L290.5 65.8L289.7 74.8L287.6 85.8L284.5 96.8L280.5 107.2L275.8 116.7L270.8 124.5L265.2 131.2L259.0 137.2L252.2 142.3L244.8 146.6L236.8 149.8L228.2 152.0L219.2 153.3ZM447.8 225.1L-3.8 225.1L-3.8 183.8L-3.8 183.0L0.2 183.0L46.8 197.9L73.2 203.3L116.2 207.4L148.8 208.9L174.8 208.3L231.2 200.7L251.2 195.9L277.2 190.9L303.2 183.9L328.2 175.9L345.8 173.8L360.8 172.9L387.2 173.6L413.8 176.9L443.8 181.9L447.8 181.9L447.8 225.1Z"/><path fill="#007eff" d="M221.2 151.3L212.2 151.7L203.8 151.1L195.2 149.4L187.2 146.8L179.8 143.3L172.8 138.9L166.2 133.5L160.4 127.2L155.2 120.2L150.6 112.2L146.7 103.8L143.3 94.2L140.7 84.2L139.0 73.8L138.4 65.2L138.6 52.8L136.8 49.9L129.8 47.8L115.8 46.9L97.8 44.1L47.5 33.8L21.2 29.1L-3.8 26.6L-4.1 -3.8L448.1 -3.8L447.8 26.7L395.8 25.6L325.4 28.2L298.0 30.2L289.3 31.8L283.6 33.8L282.2 35.2L282.0 36.8L285.8 46.2L287.5 53.2L288.3 62.2L287.9 72.2L286.3 82.8L283.7 93.2L280.2 103.2L275.8 113.0L271.1 120.8L265.8 127.9L259.8 134.2L253.2 139.4L246.2 143.8L238.2 147.3L229.8 149.9L221.2 151.3ZM447.8 225.1L-3.8 225.1L-3.9 184.2L-3.8 183.1L0.2 183.1L46.8 198.0L73.2 203.4L116.2 207.5L148.8 209.0L174.8 208.4L231.2 200.8L251.2 196.0L277.2 191.0L302.8 184.1L328.2 176.0L345.8 173.9L360.8 173.0L387.2 173.7L413.2 176.9L443.8 182.0L447.8 182.0L447.8 225.1Z"/><path fill="#0087ff" d="M217.2 149.8L208.8 149.7L200.8 148.7L192.8 146.8L185.2 144.0L178.2 140.3L171.8 135.7L165.8 130.3L160.2 124.0L155.3 116.8L150.9 108.8L147.2 100.0L144.3 90.8L141.2 74.2L140.7 64.8L141.4 52.8L140.0 49.8L133.3 47.8L115.8 46.7L98.2 44.0L48.0 33.8L21.2 29.0L-3.8 26.5L-4.1 -3.8L448.1 -3.8L447.8 26.6L395.8 25.5L322.2 28.2L294.9 30.2L285.7 31.8L279.7 33.8L278.2 35.2L278.1 36.8L283.1 47.2L285.3 55.8L286.0 63.2L285.8 71.8L284.4 82.2L281.8 93.2L278.2 103.2L273.8 112.8L268.9 120.8L263.2 127.9L257.2 133.9L250.2 139.2L242.8 143.4L234.8 146.6L226.2 148.7L217.2 149.8ZM447.8 225.1L-3.8 225.1L-3.9 184.2L-3.8 183.2L0.2 183.2L46.8 198.1L73.2 203.5L116.2 207.6L148.8 209.1L174.8 208.5L231.2 200.9L251.2 196.1L277.2 191.1L302.8 184.2L328.2 176.1L345.8 174.0L360.8 173.1L387.2 173.8L413.2 177.0L443.8 182.1L447.8 182.1L447.8 225.1Z"/><path fill="#0090ff" d="M218.8 147.8L210.2 147.9L202.2 147.1L194.2 145.2L186.8 142.5L179.8 138.9L173.2 134.5L167.2 129.1L161.7 122.8L156.9 115.8L152.6 107.8L148.8 98.8L146.1 89.8L143.3 73.2L143.2 63.8L144.4 52.2L143.9 50.2L142.9 49.2L138.2 47.8L115.8 46.5L98.2 43.9L47.2 33.5L23.1 29.2L0.2 26.4L-3.8 26.4L-4.1 -3.8L448.1 -3.8L447.8 26.5L395.8 25.3L323.2 28.0L291.7 30.2L282.1 31.8L275.6 33.8L274.1 35.2L274.1 36.8L279.2 45.8L281.6 51.8L283.2 59.8L283.6 69.2L282.8 79.2L280.6 89.8L277.5 99.8L273.5 109.2L268.8 117.5L263.4 124.8L257.3 131.2L250.8 136.5L243.7 140.8L235.8 144.2L227.2 146.6L218.8 147.8ZM447.8 225.1L-3.8 225.1L-3.8 184.2L-3.8 183.3L0.2 183.3L46.8 198.2L73.2 203.6L116.2 207.7L148.8 209.2L174.8 208.6L231.2 201.0L251.2 196.2L277.2 191.2L302.9 184.2L328.2 176.2L345.8 174.1L360.8 173.2L387.2 173.9L413.2 177.1L443.8 182.2L447.8 182.2L447.8 225.1Z"/><path fill="#0099ff" d="M219.2 145.8L210.8 146.0L202.8 145.2L194.8 143.3L187.2 140.6L180.2 136.9L173.8 132.3L167.8 126.8L162.6 120.8L158.0 113.8L153.8 105.7L150.2 96.8L147.7 87.8L145.5 72.2L145.7 63.2L147.4 51.8L147.0 49.8L146.0 48.8L140.6 47.2L116.2 46.3L98.2 43.7L46.8 33.3L21.2 28.8L-3.8 26.3L-4.1 -3.8L448.1 -3.8L447.8 26.4L395.8 25.2L313.2 28.2L284.6 30.8L276.0 32.2L270.6 34.2L269.6 35.8L270.0 37.2L275.8 45.8L278.9 52.8L280.5 59.2L281.2 66.8L280.9 76.2L279.3 86.8L276.5 96.8L272.8 106.2L268.2 114.6L263.2 121.9L257.2 128.5L250.8 134.0L243.8 138.5L235.8 142.1L227.8 144.4L219.2 145.8ZM447.8 225.1L-3.8 225.1L-3.8 184.2L-3.8 183.4L0.2 183.4L46.8 198.2L73.2 203.6L116.2 207.8L148.8 209.3L174.8 208.7L231.2 201.1L250.8 196.4L277.2 191.3L303.2 184.2L328.2 176.3L345.8 174.2L360.8 173.3L387.2 173.9L413.2 177.2L443.8 182.3L447.8 182.3L447.8 225.1Z"/><path fill="#00a2ff" d="M218.8 143.8L210.8 144.0L202.8 143.1L194.8 141.2L187.2 138.3L180.7 134.8L174.2 130.1L168.6 124.8L163.3 118.2L158.8 111.1L154.9 103.2L151.8 94.8L149.5 85.8L147.9 70.8L148.4 62.2L150.7 51.2L150.3 49.2L149.3 48.2L143.1 46.8L116.2 46.1L98.2 43.6L46.9 33.2L21.2 28.8L-3.8 26.2L-4.1 -3.8L448.1 -3.8L447.8 26.3L395.8 25.2L309.1 28.2L281.2 30.8L272.0 32.2L266.0 34.2L265.0 35.8L265.4 37.2L271.9 45.2L275.7 52.2L277.6 58.2L278.6 65.2L278.8 74.2L277.6 84.2L275.2 93.8L271.8 103.5L267.6 111.8L262.7 119.2L256.8 126.1L250.4 131.8L243.2 136.4L235.8 139.9L227.2 142.5L218.8 143.8ZM447.8 225.1L-3.8 225.1L-3.8 184.2L-3.8 183.5L0.2 183.5L46.8 198.3L73.2 203.7L116.2 207.9L148.8 209.4L174.8 208.8L231.2 201.2L250.8 196.5L277.2 191.3L303.2 184.3L328.2 176.4L346.2 174.2L360.8 173.4L387.2 174.0L413.8 177.3L443.8 182.4L447.8 182.4L447.8 225.1Z"/><path fill="#00abff" d="M217.8 141.8L209.8 141.8L201.8 140.8L194.2 138.8L187.2 136.0L180.8 132.3L174.8 127.7L169.2 122.2L164.1 115.8L159.6 108.2L155.9 100.2L153.1 91.8L151.3 83.2L150.4 69.2L151.4 60.8L154.2 50.8L153.9 48.8L153.0 47.8L150.1 46.8L145.2 46.2L115.8 45.9L98.2 43.5L47.4 33.2L21.8 28.8L0.2 26.2L-3.8 26.2L-4.1 -3.8L448.1 -3.8L447.8 26.2L395.8 25.1L304.9 28.2L273.9 31.2L265.5 32.8L261.5 34.2L260.4 35.2L260.3 36.8L267.7 44.8L271.2 49.8L274.2 56.8L275.9 64.2L276.4 72.8L275.6 82.2L273.6 91.8L270.4 101.2L266.2 109.9L261.2 117.7L255.6 124.2L249.2 129.9L241.9 134.8L234.2 138.2L226.2 140.6L217.8 141.8ZM447.8 225.1L-3.8 225.1L-3.9 184.8L-3.8 183.6L0.2 183.6L46.8 198.4L73.2 203.8L116.2 208.0L148.8 209.5L174.8 208.9L231.2 201.2L251.2 196.4L277.2 191.4L302.8 184.6L328.2 176.5L345.8 174.3L360.8 173.5L387.2 174.1L413.2 177.3L443.8 182.4L447.8 182.4L447.8 225.1Z"/><path fill="#00b4ff" d="M214.8 139.8L207.2 139.4L199.8 138.2L192.8 136.0L185.8 132.8L179.6 128.8L173.8 123.8L168.7 118.2L164.2 112.0L160.3 104.8L157.2 97.2L154.8 89.0L153.3 80.8L153.2 67.2L154.6 59.8L158.0 50.2L157.9 48.2L156.9 47.2L154.0 46.2L148.2 45.7L115.8 45.7L97.8 43.3L47.8 33.2L21.2 28.6L-3.8 26.1L-4.1 -3.8L448.1 -3.8L447.8 26.1L395.8 25.0L303.2 28.1L270.1 31.2L261.4 32.8L256.0 34.8L255.1 35.8L255.3 37.2L264.0 45.2L268.5 51.2L271.1 56.8L272.9 63.2L273.8 71.8L273.4 80.8L271.7 90.2L268.6 99.8L264.7 108.2L259.6 116.2L253.8 123.1L247.2 128.7L239.8 133.4L231.9 136.8L223.2 138.9L214.8 139.8ZM447.8 225.1L-3.8 225.1L-3.9 184.8L-3.8 183.7L0.2 183.7L46.8 198.5L73.2 203.9L116.2 208.1L148.8 209.6L174.8 209.0L231.2 201.3L251.2 196.5L277.2 191.5L302.8 184.7L328.2 176.6L345.8 174.4L360.8 173.6L387.2 174.2L413.2 177.4L443.8 182.5L447.8 182.5L447.8 225.1Z"/><path fill="#00bdff" d="M218.8 137.3L210.8 137.5L203.2 136.6L195.8 134.7L188.8 131.7L182.2 127.9L176.2 123.1L170.8 117.2L166.2 111.0L162.3 103.8L159.1 95.8L156.8 87.2L155.7 79.2L155.5 72.2L156.2 65.8L158.0 58.8L162.2 49.2L162.2 47.8L161.3 46.8L158.4 45.8L151.8 45.2L115.8 45.6L97.8 43.2L47.2 33.1L21.2 28.5L-3.8 26.0L-4.1 -3.8L448.1 -3.8L447.8 26.1L395.8 24.9L303.2 28.0L264.2 31.5L255.4 33.2L250.1 35.2L249.3 36.2L249.9 37.8L258.8 44.5L263.8 49.8L266.9 54.8L269.3 60.8L270.9 68.2L271.2 76.8L270.3 85.2L268.1 94.2L264.9 102.8L260.6 110.8L255.2 118.1L249.2 124.2L242.4 129.2L235.2 133.0L227.2 135.8L218.8 137.3ZM447.8 225.1L-3.8 225.1L-3.8 184.8L-3.8 183.8L0.2 183.8L46.8 198.6L73.2 204.0L116.2 208.2L148.8 209.7L174.8 209.1L231.2 201.4L251.2 196.6L277.2 191.6L302.8 184.7L328.2 176.6L345.8 174.5L360.8 173.7L387.2 174.3L413.2 177.5L443.8 182.6L447.8 182.6L447.8 225.1Z"/><path fill="#00c6ff" d="M219.8 134.8L211.8 135.2L204.2 134.4L196.8 132.5L190.1 129.8L183.8 126.0L177.8 121.2L172.2 115.3L167.6 108.8L163.7 101.2L160.8 93.2L158.9 84.8L158.2 76.8L158.4 70.2L159.6 63.8L162.2 56.8L167.2 48.2L167.3 46.8L166.2 45.8L154.8 44.6L115.8 45.4L97.8 43.1L46.8 32.9L21.2 28.4L-3.8 25.9L-4.1 -3.8L448.1 -3.8L447.8 26.0L395.8 24.8L303.2 27.8L263.8 31.1L249.0 33.8L243.6 35.8L242.9 36.8L243.8 38.2L253.8 44.5L259.2 49.2L262.7 53.8L265.4 58.8L267.6 65.8L268.5 73.2L268.3 81.2L266.9 89.8L264.2 98.2L260.2 106.8L255.3 114.2L249.5 120.8L242.8 126.2L235.8 130.2L227.8 133.2L219.8 134.8ZM447.8 225.1L-3.8 225.1L-3.8 184.8L-3.8 183.8L0.2 183.8L46.8 198.7L73.2 204.1L116.2 208.3L148.8 209.7L174.8 209.2L231.2 201.5L251.2 196.7L277.2 191.7L303.0 184.8L328.2 176.7L345.8 174.6L360.8 173.8L387.2 174.4L413.2 177.6L443.8 182.7L447.8 182.7L447.8 225.1Z"/><path fill="#00cfff" d="M219.8 132.3L211.8 132.7L204.2 131.9L196.8 129.9L189.8 126.8L183.4 122.8L177.7 117.8L172.6 111.8L168.2 104.8L164.8 97.2L162.4 89.2L161.2 81.2L161.1 73.2L162.0 66.8L163.8 61.2L166.9 55.2L173.0 47.2L173.4 45.8L172.8 44.9L170.4 44.2L165.2 44.0L115.8 45.3L97.8 42.9L46.8 32.8L21.2 28.3L-3.8 25.8L-4.1 -3.8L448.1 -3.8L447.8 25.9L395.8 24.7L302.8 27.7L263.3 30.8L244.4 33.8L235.9 36.2L235.2 37.2L236.2 38.5L247.2 44.0L253.5 48.2L257.5 52.2L260.8 56.8L263.5 62.8L265.3 69.8L265.8 77.8L265.0 85.8L262.8 94.8L259.3 103.2L254.8 110.9L249.2 117.5L242.8 123.2L235.8 127.4L227.8 130.6L219.8 132.3ZM447.8 225.1L-3.8 225.1L-3.8 184.8L-3.8 183.9L0.2 183.9L46.8 198.8L73.2 204.2L116.2 208.3L148.8 209.8L174.8 209.2L231.2 201.6L250.8 196.9L277.2 191.8L303.2 184.8L328.2 176.8L345.8 174.7L360.8 173.8L387.2 174.5L413.2 177.7L443.8 182.8L447.8 182.8L447.8 225.1Z"/><path fill="#00d8ff" d="M219.2 129.8L211.2 130.1L203.8 129.2L196.2 126.9L189.2 123.5L182.8 118.9L177.2 113.4L172.4 106.8L168.7 99.8L165.8 91.8L164.2 83.8L163.9 75.8L164.9 68.2L166.9 62.2L169.8 57.0L173.8 52.1L180.7 45.8L181.5 44.8L181.4 43.8L178.8 43.0L173.2 42.9L135.8 44.8L115.8 45.1L97.8 42.8L21.2 28.2L-3.8 25.7L-4.1 -3.8L448.1 -3.8L447.8 25.8L395.8 24.6L302.8 27.5L260.6 30.8L234.1 34.8L226.2 37.2L225.7 38.2L226.9 39.2L239.2 43.6L246.2 47.1L251.2 50.7L255.2 54.7L258.9 60.2L261.4 66.8L262.7 73.8L262.7 81.2L261.3 90.2L258.3 99.2L254.1 107.2L248.8 114.2L242.3 120.2L235.2 124.8L227.2 128.1L219.2 129.8ZM447.8 225.1L-3.8 225.1L-3.9 185.2L-3.8 184.0L0.2 184.0L46.8 198.8L73.2 204.2L116.2 208.4L148.8 209.9L174.8 209.3L231.2 201.7L250.8 197.0L277.2 191.8L303.2 184.8L328.2 176.9L346.2 174.7L360.8 173.9L387.2 174.5L413.8 177.8L443.8 182.9L447.8 182.9L447.8 225.1Z"/><path fill="#00e1ff" d="M216.8 127.3L208.2 127.1L200.2 125.4L192.8 122.3L185.8 117.8L179.8 112.1L174.7 105.2L170.8 97.5L168.1 89.2L167.0 81.2L167.2 73.8L168.8 66.8L171.8 60.2L175.6 55.2L180.2 51.1L186.8 47.0L196.9 42.2L197.6 41.8L197.2 41.2L187.8 40.9L136.2 44.6L115.8 45.0L97.8 42.7L21.2 28.2L-3.8 25.7L-4.1 -3.8L448.1 -3.8L447.8 25.7L395.8 24.5L302.8 27.4L264.2 30.0L242.2 32.8L223.9 35.8L208.8 39.8L208.8 40.2L210.2 40.6L223.2 42.4L232.2 44.4L239.8 47.2L245.8 50.7L251.1 55.2L255.2 60.8L258.1 67.2L259.6 74.8L259.5 84.2L257.4 93.8L253.5 102.8L248.2 110.6L241.8 117.2L234.1 122.2L225.8 125.6L216.8 127.3ZM447.8 225.0L-3.8 225.0L-3.9 185.2L-3.8 184.1L0.2 184.1L46.8 198.9L73.2 204.3L116.2 208.5L148.8 210.0L174.8 209.4L231.2 201.7L251.2 196.9L277.2 191.9L302.8 185.1L328.2 177.0L345.8 174.8L360.8 174.0L387.2 174.6L413.2 177.8L443.8 182.9L447.8 182.9L447.8 225.0Z"/><path fill="#00eaff" d="M121.8 44.8L115.8 44.9L97.8 42.6L22.2 28.2L0.2 25.6L-3.8 25.6L-4.1 -3.8L448.1 -3.8L447.8 25.7L395.8 24.5L302.1 27.2L259.9 30.2L230.8 33.7L200.8 38.5L162.2 42.6L136.2 44.4L121.8 44.8ZM217.2 124.3L209.2 124.3L201.8 122.8L194.8 120.1L188.2 116.0L182.5 110.8L177.5 104.2L173.8 97.0L171.3 89.2L170.2 81.8L170.6 74.2L172.4 67.2L175.4 61.2L179.8 56.2L185.2 51.9L192.2 48.4L199.8 46.1L209.2 44.9L219.2 45.1L228.8 46.8L237.2 49.7L244.1 53.8L249.4 58.8L253.3 64.8L255.7 71.8L256.5 80.8L255.3 89.8L252.2 98.8L247.5 106.8L241.2 113.7L234.2 118.8L226.2 122.4L217.2 124.3ZM447.8 225.0L-3.8 225.0L-3.9 185.2L-3.8 184.2L0.2 184.2L46.8 199.0L73.2 204.4L116.2 208.6L148.8 210.1L174.8 209.5L231.2 201.8L251.2 197.0L277.2 192.0L302.8 185.1L328.2 177.0L345.8 174.9L360.8 174.1L387.2 174.7L413.2 177.9L443.8 183.0L447.8 183.0L447.8 225.0Z"/><path fill="#00f3ff" d="M117.2 44.8L97.8 42.5L21.2 28.0L-3.8 25.5L-4.0 -3.8L448.0 -3.8L447.8 25.6L395.8 24.4L299.8 27.2L253.0 30.8L161.8 42.3L135.8 44.3L117.2 44.8ZM215.2 121.3L207.8 120.9L200.8 119.2L194.2 116.2L188.0 111.8L182.8 106.2L178.6 99.8L175.6 92.8L174.0 85.2L173.8 78.2L174.8 71.8L177.2 65.8L180.8 60.6L185.4 56.2L191.2 52.7L198.2 50.1L205.8 48.6L214.8 48.1L223.2 48.9L231.2 51.0L238.2 54.2L243.7 58.2L248.0 63.2L251.1 69.2L252.8 75.9L252.9 83.8L251.3 92.2L247.9 100.2L243.2 107.1L237.5 112.8L230.8 117.1L223.2 120.0L215.2 121.3ZM447.8 225.0L-3.8 225.0L-3.9 185.2L-3.8 184.2L0.2 184.2L46.8 199.1L73.2 204.5L116.2 208.7L148.8 210.1L174.8 209.6L231.2 201.9L251.2 197.1L277.2 192.1L302.8 185.2L328.2 177.1L345.8 175.0L360.8 174.2L387.2 174.8L413.2 178.0L443.8 183.1L447.8 183.1L447.8 225.0Z"/><path fill="#00fafc" d="M130.2 44.3L115.8 44.7L98.2 42.5L21.2 28.0L-3.8 25.4L-4.0 -3.8L448.0 -3.8L447.8 25.5L395.8 24.3L297.6 27.2L260.2 29.8L231.2 32.8L162.2 42.0L130.2 44.3ZM216.2 117.8L209.8 117.7L203.2 116.4L197.2 113.9L191.6 110.2L186.8 105.6L182.8 100.1L179.7 93.8L178.0 87.2L177.5 80.8L178.2 74.8L180.0 69.2L183.0 64.2L187.2 59.9L192.2 56.5L198.2 53.9L204.8 52.3L212.2 51.6L220.2 52.0L227.8 53.7L234.2 56.4L239.3 59.8L243.8 64.3L246.9 69.8L248.8 75.8L249.2 82.8L248.1 90.2L245.3 97.8L241.2 104.1L236.2 109.3L230.2 113.5L223.8 116.3L216.2 117.8ZM447.8 225.0L-3.8 225.0L-3.8 185.2L-3.8 184.3L0.2 184.3L46.8 199.1L73.2 204.5L116.2 208.7L148.8 210.2L174.8 209.6L231.2 202.0L251.2 197.2L277.2 192.2L302.9 185.2L328.2 177.2L345.8 175.0L360.8 174.2L387.2 174.9L413.2 178.1L443.8 183.2L447.8 183.2L447.8 225.0Z"/><path fill="#00faf6" d="M125.8 44.3L115.8 44.5L98.2 42.4L21.2 27.9L-3.8 25.4L-4.0 -3.8L448.0 -3.8L447.8 25.4L395.8 24.2L295.4 27.2L258.2 29.8L230.8 32.5L162.2 41.7L136.2 44.0L125.8 44.3ZM217.2 113.8L211.2 114.0L205.8 113.1L200.2 111.1L195.3 108.2L190.8 104.3L187.2 99.9L184.4 94.8L182.5 89.2L181.7 83.8L181.9 78.2L183.2 73.1L185.7 68.2L189.0 64.2L193.2 60.8L198.2 58.2L203.8 56.5L210.8 55.5L217.8 55.6L224.2 56.8L230.2 59.0L235.2 62.1L239.2 65.8L242.2 70.3L244.3 75.8L245.1 82.2L244.3 88.8L242.2 95.0L238.9 100.8L234.5 105.8L229.2 109.6L223.7 112.2L217.2 113.8ZM447.8 225.0L-3.8 225.0L-3.9 185.8L-3.8 184.4L0.2 184.4L46.8 199.2L73.2 204.6L116.2 208.8L148.8 210.3L174.8 209.7L231.2 202.0L250.8 197.4L277.2 192.2L303.1 185.2L328.2 177.3L345.8 175.1L360.8 174.3L387.2 174.9L413.2 178.1L443.8 183.2L447.8 183.2L447.8 225.0Z"/><path fill="#00fbef" d="M121.8 44.3L115.8 44.4L98.2 42.3L21.2 27.8L-3.8 25.3L-4.0 -3.8L448.0 -3.8L447.8 25.4L395.8 24.2L303.2 26.7L284.6 27.8L263.8 29.0L230.8 32.2L161.8 41.5L136.2 43.8L121.8 44.3ZM217.8 109.3L212.8 109.6L207.8 109.0L203.2 107.6L198.8 105.2L195.0 102.2L191.8 98.6L189.1 94.2L187.4 89.8L186.5 84.8L186.6 80.2L187.6 75.8L189.5 71.8L192.1 68.2L195.4 65.2L199.6 62.8L204.2 61.0L209.8 60.0L215.8 59.9L221.4 60.8L226.8 62.6L231.2 65.2L234.8 68.3L237.6 72.2L239.4 76.8L240.2 81.8L239.9 87.2L238.3 92.8L235.8 97.5L232.2 101.8L227.9 105.2L223.1 107.8L217.8 109.3ZM447.8 225.0L-3.8 225.0L-3.9 185.8L-3.8 184.4L0.2 184.4L46.8 199.3L73.2 204.7L116.2 208.9L148.8 210.4L174.8 209.8L231.2 202.1L250.8 197.4L277.2 192.3L303.2 185.3L328.2 177.3L346.2 175.2L360.8 174.4L387.2 175.0L413.2 178.2L443.8 183.3L447.8 183.3L447.8 225.0Z"/><path fill="#00fbe8" d="M118.8 44.3L97.8 42.2L21.2 27.7L-3.8 25.2L-4.0 -3.8L448.0 -3.8L447.8 25.3L395.8 24.1L303.2 26.6L282.3 27.8L264.2 28.8L231.2 31.9L161.8 41.3L136.2 43.7L118.8 44.3ZM217.8 103.8L210.2 104.0L202.8 101.4L196.8 96.2L193.3 89.8L192.4 82.2L194.2 75.6L198.8 70.1L205.8 66.3L210.2 65.4L214.8 65.2L223.2 67.2L226.8 69.1L229.8 71.8L232.0 74.8L233.6 78.2L234.4 82.2L234.2 86.2L233.2 90.2L231.3 94.2L225.7 100.2L221.8 102.5L217.8 103.8ZM447.8 225.0L-3.8 225.0L-3.9 185.8L-3.8 184.5L0.2 184.5L46.8 199.4L73.2 204.8L116.2 208.9L148.8 210.4L174.8 209.8L231.2 202.2L251.2 197.4L277.2 192.4L303.2 185.4L328.2 177.4L345.8 175.3L360.8 174.4L387.2 175.1L413.8 178.4L443.8 183.4L447.8 183.4L447.8 225.0Z"/><path fill="#00fce1" d="M129.8 43.8L115.8 44.2L98.2 42.2L21.8 27.8L0.2 25.2L-3.8 25.2L-4.0 -3.8L448.0 -3.8L447.8 25.2L395.8 24.0L303.2 26.5L271.2 28.2L230.8 31.8L162.2 41.1L129.8 43.8ZM216.2 96.3L211.2 96.5L206.8 94.9L203.1 91.8L201.0 87.8L200.5 83.2L201.8 79.2L204.6 75.8L208.8 73.5L214.2 72.8L219.2 74.0L223.2 76.8L225.6 80.8L226.1 85.8L224.6 90.2L221.0 94.2L216.2 96.3ZM447.8 225.0L-3.8 225.0L-3.9 185.8L-3.8 184.6L0.2 184.6L46.8 199.4L73.2 204.8L116.2 209.0L148.8 210.5L174.8 209.9L231.2 202.3L251.2 197.5L277.2 192.4L302.8 185.6L328.2 177.5L345.8 175.3L360.8 174.5L387.2 175.1L413.2 178.3L443.8 183.4L447.8 183.4L447.8 225.0Z"/><path fill="#00fdda" d="M126.8 43.8L115.8 44.1L98.2 42.1L22.2 27.8L0.2 25.1L-3.8 25.1L-4.0 -3.8L448.0 -3.8L447.8 25.2L395.8 23.9L303.2 26.4L268.8 28.2L230.8 31.6L188.2 36.9L161.8 41.0L136.2 43.4L126.8 43.8ZM447.8 225.0L-3.8 225.0L-3.9 185.8L-3.8 184.7L0.2 184.7L46.8 199.5L73.2 204.9L116.2 209.1L148.8 210.6L174.8 210.0L231.2 202.3L251.2 197.5L277.2 192.5L302.8 185.6L328.2 177.5L345.8 175.4L360.8 174.6L387.2 175.2L413.2 178.4L443.8 183.5L447.8 183.5L447.8 225.0Z"/><path fill="#00fdd4" d="M123.8 43.8L115.8 44.0L98.2 42.0L21.2 27.5L-3.8 25.0L-4.0 -3.8L448.0 -3.8L447.8 25.1L395.8 23.9L303.2 26.3L266.4 28.2L230.8 31.4L188.0 36.8L161.8 40.8L136.2 43.3L123.8 43.8ZM447.8 225.0L-3.8 225.0L-3.9 185.8L-3.8 184.7L0.2 184.7L46.8 199.6L73.2 205.0L116.2 209.2L148.8 210.6L174.8 210.0L231.2 202.4L251.2 197.6L277.2 192.6L302.8 185.7L328.2 177.6L345.8 175.5L360.8 174.7L387.2 175.3L413.2 178.5L443.8 183.6L447.8 183.6L447.8 225.0Z"/><path fill="#00fecd" d="M121.2 43.8L115.8 44.0L98.2 41.9L21.2 27.5L-3.8 25.0L-4.0 -3.8L448.0 -3.8L447.8 25.0L395.8 23.8L303.2 26.2L264.2 28.2L230.2 31.2L188.2 36.5L161.8 40.6L136.2 43.2L121.2 43.8ZM447.8 225.0L-3.8 225.0L-3.9 186.2L-3.8 184.8L0.2 184.8L46.8 199.6L73.2 205.0L116.2 209.2L148.8 210.7L174.8 210.1L231.2 202.4L251.2 197.7L277.2 192.6L302.8 185.8L328.2 177.7L345.8 175.5L360.8 174.7L387.2 175.3L413.2 178.5L443.8 183.6L447.8 183.6L447.8 225.0Z"/><path fill="#00fec6" d="M119.2 43.8L115.8 43.9L97.8 41.8L21.2 27.4L-3.8 24.9L-4.0 -3.8L448.0 -3.8L447.8 25.0L395.8 23.7L303.2 26.1L264.2 28.1L228.9 31.2L188.2 36.4L161.8 40.5L136.2 43.1L119.2 43.8ZM447.8 225.0L-3.8 225.0L-3.9 186.2L-3.8 184.9L0.2 184.9L46.8 199.7L73.2 205.1L116.2 209.3L148.8 210.8L174.8 210.2L231.2 202.5L250.8 197.8L277.2 192.7L303.1 185.8L328.2 177.7L345.8 175.6L360.8 174.8L387.2 175.4L413.2 178.6L443.8 183.7L447.8 183.7L447.8 225.0Z"/><path fill="#00fdbd" d="M116.8 43.8L97.8 41.7L21.2 27.3L-3.8 24.8L-4.0 -3.8L448.0 -3.8L447.8 24.9L395.8 23.7L303.2 26.0L264.2 28.0L215.2 32.8L160.8 40.4L136.2 43.0L116.8 43.8ZM447.8 225.0L-3.8 225.0L-3.9 186.2L-3.8 184.9L0.2 184.9L46.8 199.8L73.2 205.2L116.2 209.3L148.8 210.8L174.8 210.2L231.2 202.6L250.8 197.9L277.2 192.8L303.2 185.8L328.2 177.8L345.8 175.7L360.8 174.9L387.2 175.5L413.2 178.7L443.8 183.8L447.8 183.8L447.8 225.0Z"/><path fill="#03f6a7" d="M126.8 43.3L115.8 43.7L98.2 41.7L21.2 27.3L-3.8 24.8L-4.0 -3.8L448.0 -3.8L447.8 24.8L395.8 23.6L303.2 25.9L264.2 27.9L230.8 30.7L188.2 36.0L161.8 40.2L136.2 42.9L126.8 43.3ZM447.8 225.0L-3.8 225.0L-3.9 186.2L-3.8 185.0L0.2 185.0L46.8 199.8L73.2 205.2L116.2 209.4L148.8 210.9L174.8 210.3L231.2 202.6L250.8 198.0L277.2 192.8L303.2 185.8L328.2 177.9L346.2 175.7L360.8 174.9L387.2 175.5L414.2 178.9L443.8 183.8L447.8 183.8L447.8 225.0Z"/><path fill="#07ee8b" d="M120.8 43.3L115.8 43.4L98.2 41.5L21.2 27.1L-3.8 24.6L-4.0 -3.8L448.0 -3.8L447.8 24.6L395.8 23.4L303.2 25.6L264.2 27.6L214.6 32.2L160.2 40.0L136.2 42.6L120.8 43.3ZM447.8 225.0L-3.8 225.0L-3.9 186.2L-3.8 185.2L0.2 185.2L46.8 200.0L73.2 205.4L116.2 209.6L148.8 211.1L174.8 210.5L231.2 202.8L251.2 198.0L277.2 193.0L302.8 186.2L328.2 178.1L345.8 175.9L360.8 175.1L387.2 175.7L413.2 178.9L443.8 184.0L447.8 184.0L447.8 225.0Z"/><path fill="#0ae875" d="M117.2 43.3L97.8 41.3L21.2 27.0L-3.8 24.5L-4.0 -3.8L448.0 -3.8L447.8 24.5L395.8 23.3L303.2 25.5L264.2 27.4L231.2 30.1L212.8 32.2L188.2 35.4L162.2 39.6L144.8 41.5L117.2 43.3ZM447.8 225.0L-3.8 225.0L-3.9 186.8L-3.8 185.3L0.2 185.3L46.8 200.1L73.2 205.5L116.2 209.7L148.8 211.2L174.8 210.6L231.2 202.9L251.2 198.2L277.2 193.1L302.8 186.2L328.2 178.2L345.8 176.0L360.8 175.2L387.2 175.8L413.2 179.0L443.8 184.1L447.8 184.1L447.8 225.0Z"/><path fill="#0ce25f" d="M124.8 42.8L115.8 43.1L97.8 41.1L21.2 26.9L-3.8 24.3L-4.0 -3.8L448.0 -3.8L447.8 24.4L395.8 23.2L303.2 25.3L264.2 27.2L230.8 29.9L187.8 35.2L161.8 39.4L136.2 42.2L124.8 42.8ZM447.8 225.0L-3.8 225.0L-3.9 186.8L-3.8 185.4L0.2 185.4L46.8 200.2L73.2 205.6L116.2 209.8L148.8 211.3L174.8 210.7L231.2 203.1L250.8 198.4L277.2 193.3L303.2 186.2L328.2 178.3L345.8 176.1L360.8 175.3L387.2 175.9L413.2 179.2L443.8 184.3L447.8 184.3L447.8 225.0Z"/><path fill="#0fdb49" d="M121.8 42.8L115.8 43.0L97.8 41.0L21.3 26.8L-3.8 24.2L-4.0 -3.8L448.0 -3.8L447.8 24.3L395.8 23.1L302.8 25.2L264.2 27.0L230.3 29.8L188.2 34.9L161.8 39.2L136.2 42.1L121.8 42.8ZM447.8 225.0L-3.8 225.0L-3.9 186.8L-3.8 185.5L0.2 185.5L46.8 200.4L73.2 205.8L116.2 209.9L148.8 211.4L174.8 210.8L231.2 203.2L250.8 198.5L277.2 193.4L303.2 186.3L328.2 178.4L345.8 176.3L360.8 175.4L387.2 176.1L413.8 179.3L443.8 184.4L447.8 184.4L447.8 225.0Z"/><path fill="#12d533" d="M118.8 42.8L97.8 40.9L21.2 26.6L-3.8 24.1L-4.0 -3.8L448.0 -3.8L447.8 24.2L395.8 22.9L303.2 25.1L264.2 26.8L215.7 31.2L188.1 34.8L161.8 39.1L136.2 41.9L118.8 42.8ZM447.8 225.0L-3.8 225.0L-3.9 186.8L-3.8 185.6L0.2 185.6L46.8 200.5L73.2 205.9L116.2 210.0L148.8 211.5L174.8 210.9L231.2 203.3L251.2 198.5L277.2 193.5L302.8 186.6L328.2 178.5L345.8 176.4L360.8 175.5L387.2 176.2L413.2 179.4L443.8 184.5L447.8 184.5L447.8 225.0Z"/><path fill="#1ed424" d="M116.2 42.8L97.8 40.8L21.2 26.5L-3.8 24.0L-4.0 -3.8L448.0 -3.8L447.8 24.1L395.8 22.8L303.2 24.9L264.2 26.7L231.2 29.3L214.1 31.2L187.8 34.6L161.8 38.9L137.8 41.6L116.2 42.8ZM447.8 225.0L-3.8 225.0L-3.9 187.2L-3.8 185.7L0.2 185.7L46.8 200.6L73.2 206.0L116.2 210.2L148.8 211.6L174.8 211.0L231.2 203.4L251.2 198.6L277.2 193.6L302.8 186.7L328.2 178.6L345.8 176.5L360.8 175.7L387.2 176.3L413.2 179.5L443.8 184.6L447.8 184.6L447.8 225.0Z"/><path fill="#34d91e" d="M123.8 42.3L115.8 42.6L97.8 40.6L21.2 26.4L-3.8 23.9L-4.0 -3.8L448.0 -3.8L447.8 24.0L395.8 22.7L303.2 24.8L264.2 26.5L230.0 29.2L188.2 34.4L161.8 38.7L136.2 41.6L123.8 42.3ZM447.8 225.0L-3.8 225.0L-3.9 187.2L-3.8 185.8L0.2 185.8L46.8 200.7L73.2 206.1L116.2 210.3L148.8 211.7L174.8 211.2L231.2 203.5L251.2 198.7L277.2 193.7L303.0 186.8L328.2 178.7L345.8 176.6L360.8 175.8L387.2 176.4L413.2 179.6L443.8 184.7L447.8 184.7L447.8 225.0Z"/><path fill="#4ade17" d="M121.2 42.3L115.8 42.5L97.8 40.5L21.2 26.3L-3.8 23.8L-4.0 -3.8L448.0 -3.8L447.8 23.9L395.8 22.6L302.8 24.7L264.2 26.4L228.7 29.2L188.1 34.2L161.8 38.6L136.2 41.5L121.2 42.3ZM447.8 224.9L-3.8 224.9L-3.9 187.2L-3.8 185.9L0.2 185.9L46.8 200.8L73.2 206.2L116.2 210.4L148.8 211.8L174.8 211.3L231.2 203.6L250.8 198.9L277.2 193.8L303.2 186.8L328.2 178.8L346.2 176.6L360.8 175.9L387.2 176.5L413.2 179.7L443.8 184.8L447.8 184.8L447.8 224.9Z"/><path fill="#5fe310" d="M118.8 42.3L97.8 40.4L21.4 26.2L0.2 23.7L-3.8 23.7L-3.9 -3.8L447.9 -3.8L447.8 23.8L395.8 22.5L303.2 24.5L264.2 26.3L230.8 28.9L188.2 34.1L161.8 38.4L136.2 41.4L118.8 42.3ZM447.8 224.9L-3.8 224.9L-3.9 187.2L-3.8 186.0L0.2 186.0L46.8 200.9L73.2 206.3L116.2 210.5L148.8 211.9L174.8 211.4L231.2 203.7L251.2 198.9L277.2 193.9L303.2 186.9L328.2 178.9L345.8 176.8L360.8 176.0L387.2 176.6L413.8 179.9L443.8 184.9L447.8 184.9L447.8 224.9Z"/><path fill="#75e80a" d="M116.2 42.3L97.8 40.3L21.2 26.1L-3.8 23.6L-3.9 -3.8L447.9 -3.8L447.8 23.7L395.8 22.4L303.2 24.4L264.2 26.1L230.8 28.7L213.0 30.8L188.2 33.9L161.8 38.3L136.8 41.2L116.2 42.3ZM447.8 224.9L-3.8 224.9L-3.9 187.8L-3.8 186.1L0.2 186.1L46.8 201.0L73.2 206.4L116.2 210.6L148.8 212.0L174.8 211.4L231.2 203.8L251.2 199.0L277.2 194.0L302.8 187.1L328.2 179.0L345.8 176.9L360.8 176.1L387.2 176.7L413.2 179.9L443.8 185.0L447.8 185.0L447.8 224.9Z"/><path fill="#8bed03" d="M123.8 41.8L115.8 42.2L98.2 40.3L21.2 26.0L-3.8 23.5L-3.9 -3.8L447.9 -3.8L447.8 23.6L395.8 22.3L303.2 24.3L264.2 26.0L229.3 28.8L188.2 33.8L161.8 38.2L136.2 41.1L123.8 41.8ZM447.8 224.9L-3.8 224.9L-3.9 187.8L-3.8 186.2L0.2 186.2L46.8 201.1L73.2 206.5L116.2 210.7L148.8 212.1L174.8 211.5L231.2 203.9L251.2 199.1L277.2 194.1L302.8 187.2L328.2 179.1L345.8 177.0L360.8 176.2L387.2 176.8L413.2 180.0L443.8 185.1L447.8 185.1L447.8 224.9Z"/><path fill="#a0f100" d="M121.8 41.8L115.8 42.1L97.8 40.1L21.2 25.9L-3.8 23.4L-3.9 -3.8L447.9 -3.8L447.8 23.5L395.8 22.2L302.8 24.2L264.2 25.9L228.2 28.8L187.8 33.7L161.8 38.0L136.2 41.0L121.8 41.8ZM447.8 224.9L-3.8 224.9L-3.9 187.8L-3.8 186.3L0.2 186.3L46.8 201.2L73.2 206.6L116.2 210.7L148.8 212.2L174.8 211.6L231.2 204.0L251.2 199.2L277.2 194.2L302.9 187.2L328.2 179.2L345.8 177.1L360.8 176.2L387.2 176.9L413.2 180.1L443.8 185.2L447.8 185.2L447.8 224.9Z"/><path fill="#b5f400" d="M119.8 41.8L115.8 41.9L97.8 40.0L21.2 25.8L-3.8 23.3L-3.9 -3.8L447.9 -3.8L447.8 23.4L395.8 22.1L302.8 24.1L264.2 25.8L230.8 28.3L188.2 33.5L161.8 37.9L136.2 40.9L119.8 41.8ZM447.8 224.9L-3.8 224.9L-3.9 187.8L-3.8 186.4L0.2 186.4L46.8 201.3L73.2 206.6L116.2 210.8L148.8 212.3L174.8 211.7L231.2 204.1L250.8 199.4L277.2 194.3L303.2 187.2L328.2 179.3L345.8 177.2L360.8 176.3L387.2 177.0L413.2 180.2L443.8 185.3L447.8 185.3L447.8 224.9Z"/><path fill="#caf700" d="M117.8 41.8L97.8 39.9L21.2 25.8L-3.8 23.2L-3.9 -3.8L447.9 -3.8L447.8 23.3L395.8 22.1L303.2 24.0L264.2 25.7L230.4 28.2L188.2 33.4L160.2 38.0L135.8 40.8L117.8 41.8ZM447.8 224.9L-3.8 224.9L-3.9 187.8L-3.8 186.5L0.2 186.5L46.8 201.3L73.2 206.7L116.2 210.9L148.8 212.4L174.8 211.8L231.2 204.2L250.8 199.5L277.2 194.3L303.2 187.3L328.2 179.4L346.2 177.2L360.8 176.4L387.2 177.0L413.8 180.3L443.8 185.4L447.8 185.4L447.8 224.9Z"/><path fill="#dffa00" d="M116.2 41.8L97.8 39.8L21.2 25.7L-3.8 23.2L-3.9 -3.8L447.9 -3.8L447.8 23.2L395.8 22.0L303.2 23.9L264.2 25.6L229.4 28.2L188.2 33.3L159.2 38.0L136.2 40.7L116.2 41.8ZM447.8 224.9L-3.8 224.9L-3.9 187.8L-3.8 186.6L0.2 186.6L46.8 201.4L73.2 206.8L116.2 211.0L148.8 212.5L174.8 211.9L231.2 204.2L251.2 199.4L277.2 194.4L302.8 187.6L328.2 179.5L345.8 177.3L360.8 176.5L387.2 177.1L413.2 180.3L443.8 185.4L447.8 185.4L447.8 224.9Z"/><path fill="#f4fd00" d="M123.8 41.3L115.8 41.6L98.2 39.8L21.2 25.6L-3.8 23.1L-3.9 -3.8L447.9 -3.8L447.8 23.1L395.8 21.9L303.2 23.8L264.2 25.4L228.4 28.2L187.8 33.2L161.8 37.6L136.2 40.6L123.8 41.3ZM447.8 224.9L-3.8 224.9L-3.9 187.8L-3.8 186.7L0.2 186.7L46.8 201.5L73.2 206.9L116.2 211.1L148.8 212.6L174.8 212.0L231.2 204.3L251.2 199.5L277.2 194.5L302.8 187.6L328.2 179.5L345.8 177.4L360.8 176.6L387.2 177.2L413.2 180.4L443.8 185.5L447.8 185.5L447.8 224.9Z"/><path fill="#fff800" d="M121.8 41.3L115.8 41.6L97.8 39.6L21.2 25.5L-3.8 23.0L-3.9 -3.8L447.9 -3.8L447.8 23.1L395.8 21.8L302.8 23.7L264.2 25.3L227.5 28.2L188.2 33.1L161.8 37.5L136.2 40.5L121.8 41.3ZM447.8 224.9L-3.8 224.9L-3.9 187.8L-3.8 186.8L0.2 186.8L46.8 201.6L73.2 207.0L116.2 211.2L148.8 212.7L174.8 212.1L231.2 204.4L251.2 199.6L277.2 194.6L302.8 187.7L328.2 179.6L345.8 177.5L360.8 176.7L387.2 177.3L413.2 180.5L443.8 185.6L447.8 185.6L447.8 224.9Z"/><path fill="#ffea00" d="M120.2 41.3L115.8 41.5L97.8 39.6L21.2 25.4L-3.8 22.9L-3.9 -3.8L447.9 -3.8L447.8 23.0L395.8 21.7L302.8 23.6L264.0 25.2L230.8 27.8L188.2 33.0L161.2 37.4L136.2 40.4L120.2 41.3ZM447.8 224.9L-3.8 224.9L-3.8 187.8L-3.8 186.8L0.2 186.8L46.8 201.7L73.2 207.1L116.2 211.3L148.8 212.7L174.8 212.2L231.2 204.5L251.2 199.7L277.2 194.7L303.0 187.8L328.2 179.7L345.8 177.6L360.8 176.8L387.2 177.4L413.2 180.6L443.8 185.7L447.8 185.7L447.8 224.9Z"/><path fill="#ffdc00" d="M118.2 41.3L97.8 39.5L21.2 25.3L-3.8 22.8L-3.9 -3.8L447.9 -3.8L447.8 22.9L395.8 21.6L303.2 23.5L264.2 25.1L230.0 27.8L188.2 32.9L160.2 37.4L136.2 40.3L118.2 41.3ZM447.8 224.9L-3.8 224.9L-3.8 187.8L-3.8 186.9L0.2 186.9L46.8 201.8L73.2 207.2L116.2 211.3L148.8 212.8L174.8 212.2L231.2 204.6L250.8 199.9L277.2 194.8L303.2 187.8L328.2 179.8L345.8 177.7L360.8 176.8L387.2 177.5L413.2 180.7L443.8 185.8L447.8 185.8L447.8 224.9Z"/><path fill="#ffce00" d="M116.8 41.3L97.8 39.4L21.2 25.3L-3.8 22.7L-3.9 -3.8L447.9 -3.8L447.8 22.8L395.8 21.6L303.2 23.4L264.2 25.1L229.2 27.8L188.2 32.8L159.2 37.5L136.2 40.2L116.8 41.3ZM447.8 224.9L-3.8 224.9L-3.8 187.8L-3.8 187.0L0.2 187.0L46.8 201.8L73.2 207.2L116.2 211.4L148.8 212.9L174.8 212.3L231.2 204.6L250.8 200.0L277.2 194.8L303.2 187.8L328.2 179.9L346.2 177.7L360.8 176.9L387.2 177.5L414.2 180.9L443.8 185.8L447.8 185.8L447.8 224.9Z"/><path fill="#ffc000" d="M124.2 40.8L115.8 41.2L98.2 39.4L21.2 25.2L-3.8 22.7L-3.9 -3.8L447.9 -3.8L447.8 22.7L395.8 21.5L303.2 23.3L264.2 25.0L215.0 29.2L187.8 32.7L161.8 37.1L136.2 40.1L124.2 40.8ZM447.8 224.9L-3.8 224.9L-3.8 187.8L-3.8 187.1L0.2 187.1L46.8 201.9L73.2 207.3L116.2 211.5L148.8 213.0L174.8 212.4L231.2 204.7L251.2 199.9L277.2 194.9L303.2 187.9L328.2 179.9L345.8 177.8L360.8 177.0L387.2 177.6L413.8 180.9L443.8 185.9L447.8 185.9L447.8 224.9Z"/><path fill="#ffb300" d="M122.8 40.8L115.8 41.1L98.2 39.3L21.2 25.1L-3.8 22.6L-3.9 -3.8L447.9 -3.8L447.8 22.7L395.8 21.4L303.2 23.3L264.2 24.9L227.5 27.8L188.2 32.6L161.8 37.0L136.2 40.0L122.8 40.8ZM447.8 224.8L-3.8 224.8L-3.8 187.8L-3.8 187.1L0.2 187.1L46.8 202.0L73.2 207.4L116.2 211.6L148.8 213.0L174.8 212.5L231.2 204.8L251.2 200.0L277.2 195.0L302.8 188.1L328.2 180.0L345.8 177.9L360.8 177.1L387.2 177.7L413.2 180.9L443.8 186.0L447.8 186.0L447.8 224.8Z"/><path fill="#ffa500" d="M121.2 40.8L115.8 41.0L97.8 39.1L21.2 25.0L-3.8 22.5L-3.9 -3.8L447.9 -3.8L447.8 22.6L395.8 21.3L302.8 23.2L264.2 24.8L230.8 27.3L188.2 32.5L161.8 36.9L136.2 39.9L121.2 40.8ZM447.8 224.8L-3.8 224.8L-3.8 187.8L-3.8 187.2L0.2 187.2L46.8 202.1L73.2 207.5L116.2 211.6L148.8 213.1L174.8 212.5L231.2 204.9L251.2 200.1L277.2 195.1L302.8 188.2L328.2 180.1L345.8 178.0L360.8 177.1L387.2 177.8L413.2 181.0L443.8 186.1L447.8 186.1L447.8 224.8Z"/><path fill="#ff9700" d="M119.8 40.8L115.8 41.0L97.8 39.1L21.2 25.0L-3.8 22.4L-3.8 -3.8L447.8 -3.8L447.8 22.5L395.8 21.2L302.8 23.1L263.8 24.7L230.3 27.2L188.2 32.4L160.8 36.9L136.2 39.8L119.8 40.8ZM447.8 224.8L-3.8 224.8L-3.8 187.8L-3.8 187.3L0.2 187.3L46.8 202.1L73.2 207.5L116.2 211.7L148.8 213.2L174.8 212.6L231.2 204.9L251.2 200.2L277.2 195.1L302.8 188.2L328.2 180.2L345.8 178.0L360.8 177.2L387.2 177.8L413.2 181.0L443.8 186.1L447.8 186.1L447.8 224.8Z"/><path fill="#ff8700" d="M118.2 40.8L97.8 39.0L21.2 24.9L-3.8 22.4L-3.8 -3.8L447.8 -3.8L447.8 22.4L395.8 21.2L303.2 23.0L264.2 24.6L229.5 27.2L188.2 32.3L159.8 37.0L135.8 39.8L118.2 40.8ZM447.8 224.8L-3.8 224.8L-3.8 187.8L0.2 187.4L46.9 202.2L73.2 207.6L116.2 211.8L148.8 213.3L174.8 212.7L231.2 205.0L250.8 200.3L277.2 195.2L303.1 188.2L328.2 180.3L345.8 178.1L360.8 177.3L387.2 177.9L413.2 181.1L443.8 186.2L447.8 186.2L447.8 224.8Z"/><path fill="#ff7700" d="M117.2 40.8L97.8 38.9L20.8 24.8L-3.8 22.3L-3.8 -3.8L447.8 -3.8L447.8 22.4L395.8 21.1L303.2 22.9L264.2 24.5L228.8 27.2L187.9 32.2L161.8 36.6L136.2 39.7L117.2 40.8ZM447.8 224.8L-3.8 224.8L-3.8 187.8L0.2 187.4L46.8 202.3L73.2 207.7L116.2 211.9L148.8 213.3L174.8 212.8L231.2 205.1L250.8 200.4L277.2 195.3L303.2 188.3L328.2 180.3L346.2 178.1L360.8 177.4L387.2 178.0L413.2 181.2L443.8 186.3L447.8 186.3L447.8 224.8Z"/><path fill="#ff6600" d="M124.8 40.3L115.8 40.7L98.2 38.9L21.2 24.7L-3.8 22.2L-3.8 -3.8L447.8 -3.8L447.8 22.3L395.8 21.0L303.2 22.9L264.2 24.5L231.2 26.9L214.7 28.8L187.8 32.2L161.8 36.5L136.2 39.6L124.8 40.3ZM447.8 224.8L-3.8 224.8L-3.8 187.8L0.2 187.5L46.8 202.3L73.2 207.7L116.2 211.9L148.8 213.4L174.8 212.8L231.2 205.2L250.8 200.5L277.2 195.3L303.2 188.3L328.2 180.4L346.2 178.2L360.8 177.4L387.2 178.0L413.8 181.3L443.8 186.4L447.8 186.4L447.8 224.8Z"/><path fill="#ff5600" d="M123.2 40.3L115.8 40.7L98.2 38.8L21.2 24.7L-3.8 22.2L-3.8 -3.8L447.8 -3.8L447.8 22.2L395.8 21.0L303.2 22.8L264.2 24.4L231.2 26.8L214.0 28.8L187.8 32.1L161.8 36.5L136.2 39.5L123.2 40.3ZM447.8 224.8L-3.8 224.8L-3.8 187.8L0.2 187.6L46.8 202.4L73.2 207.8L116.2 212.0L148.8 213.5L174.8 212.9L231.2 205.2L251.2 200.4L277.2 195.4L303.2 188.4L328.2 180.5L345.8 178.3L360.8 177.5L387.2 178.1L413.2 181.3L443.8 186.4L447.8 186.4L447.8 224.8Z"/><path fill="#ff4600" d="M121.8 40.3L115.8 40.6L97.8 38.7L21.2 24.6L-3.8 22.1L-3.8 -3.8L447.8 -3.8L447.8 22.2L395.8 20.9L302.8 22.7L264.2 24.3L226.6 27.2L188.2 32.0L161.8 36.4L136.2 39.5L121.8 40.3ZM447.8 224.8L-3.8 224.8L-3.8 187.8L0.2 187.6L46.8 202.5L73.2 207.9L116.2 212.1L148.8 213.5L174.8 213.0L231.2 205.3L251.2 200.5L277.2 195.5L302.8 188.6L328.2 180.5L345.8 178.4L360.8 177.6L387.2 178.2L413.2 181.4L443.8 186.5L447.8 186.5L447.8 224.8Z"/><path fill="#ff3600" d="M120.8 40.3L115.8 40.5L97.8 38.6L22.2 24.7L0.2 22.0L-3.8 22.0L-3.8 -3.8L447.8 -3.8L447.8 22.1L395.8 20.8L302.8 22.7L263.8 24.2L230.4 26.8L188.2 31.9L160.8 36.4L136.2 39.4L120.8 40.3ZM447.8 224.8L-3.8 224.8L-3.8 187.8L0.2 187.7L47.2 202.7L73.2 207.9L116.2 212.1L148.8 213.6L174.8 213.0L231.2 205.4L251.2 200.6L277.2 195.5L302.8 188.7L328.2 180.6L345.8 178.4L360.8 177.6L387.2 178.2L413.2 181.5L443.8 186.6L447.8 186.6L447.8 224.8Z"/><path fill="#ff2600" d="M119.2 40.3L115.8 40.4L97.8 38.6L22.2 24.6L0.2 22.0L-3.8 22.0L-3.8 -3.8L447.8 -3.8L447.8 22.0L395.8 20.8L302.8 22.6L263.8 24.2L229.7 26.8L188.2 31.8L159.8 36.5L136.2 39.3L119.2 40.3ZM447.8 224.8L-3.8 224.8L-3.8 187.8L0.2 187.8L47.2 202.7L72.8 207.9L116.2 212.2L148.8 213.7L165.2 213.3L176.8 212.9L231.8 205.3L251.2 200.6L278.2 195.4L302.8 188.8L328.2 180.7L345.8 178.5L360.8 177.7L386.8 178.3L413.2 181.5L443.8 186.6L447.8 186.6L447.8 224.8Z"/><path fill="#fd1a00" d="M118.2 40.3L97.8 38.5L22.8 24.6L2.2 22.1L-3.8 21.9L-3.8 -3.8L447.8 -3.8L447.8 22.0L395.8 20.7L302.8 22.5L264.2 24.1L229.1 26.8L188.2 31.7L159.2 36.5L136.2 39.2L118.2 40.3ZM447.8 224.8L-3.8 224.8L-3.8 187.9L0.8 188.0L47.2 202.8L72.2 207.9L117.2 212.3L148.8 213.7L166.8 213.4L177.2 212.9L231.8 205.4L251.2 200.7L276.8 195.8L302.8 188.9L328.2 180.7L345.8 178.6L360.8 177.8L388.2 178.5L413.2 181.6L443.8 186.7L447.8 186.7L447.8 224.8Z"/><path fill="#fb1200" d="M117.2 40.3L97.8 38.4L22.8 24.5L2.8 22.1L-3.8 21.8L-3.8 -3.8L447.8 -3.8L447.8 21.9L395.8 20.6L302.8 22.5L264.2 24.0L228.4 26.8L188.2 31.7L161.8 36.1L136.2 39.2L117.2 40.3ZM447.8 224.8L-3.8 224.8L-3.8 188.0L0.8 188.1L47.2 202.9L72.2 208.0L116.2 212.4L148.8 213.9L168.8 213.4L177.8 212.9L231.8 205.5L251.3 200.8L276.8 195.9L302.8 189.0L328.5 180.8L346.2 178.6L360.8 177.9L388.2 178.6L413.2 181.6L443.8 186.8L447.8 186.8L447.8 224.8Z"/><path fill="#f80b00" d="M124.8 39.8L115.8 40.2L98.2 38.4L23.2 24.5L3.2 22.0L-3.8 21.8L-3.8 -3.8L447.8 -3.8L447.8 21.8L395.8 20.5L346.2 21.9L303.2 22.4L264.2 23.9L231.2 26.4L214.8 28.2L187.8 31.7L161.8 36.0L136.2 39.1L124.8 39.8ZM447.8 224.8L-3.8 224.8L-3.8 188.1L0.8 188.1L47.2 203.0L71.8 208.0L116.2 212.5L148.8 214.0L171.2 213.5L197.8 210.5L232.2 205.5L251.7 200.8L277.2 195.9L302.8 189.1L329.0 180.8L345.8 178.7L356.2 178.1L388.2 178.6L413.2 181.7L436.5 185.2L443.8 186.9L447.8 186.9L447.8 224.8Z"/><path fill="#f60300" d="M123.2 39.8L115.8 40.1L98.2 38.4L20.8 24.0L-3.8 21.6L-3.8 -3.8L447.8 -3.8L447.8 21.8L395.2 20.4L346.2 21.8L303.2 22.3L264.2 23.9L232.8 26.2L214.2 28.2L187.2 31.7L161.8 36.0L136.2 39.0L123.2 39.8ZM447.8 224.8L-3.8 224.8L-3.8 188.2L0.8 188.2L46.8 203.1L73.8 208.5L115.8 212.6L148.8 214.1L174.2 213.6L230.2 206.1L252.0 200.8L277.2 196.1L303.2 189.1L329.6 180.8L346.0 178.8L356.2 178.2L388.2 178.7L419.2 182.7L438.8 185.7L443.8 187.1L447.8 187.1L447.8 224.8Z"/></g>
<path d="M28.6 23.0L34.5 23.6L48.1 24.9L55.5 25.2L61.7 24.6L67.8 25.2L77.7 26.0L88.8 27.0L101.1 27.3L106.1 26.0L111.0 26.5L117.2 25.2L120.9 28.2L115.9 29.5L113.5 31.9L107.3 34.4L106.1 38.1L107.9 40.5L113.5 41.7L119.6 42.7L120.9 45.4L124.6 47.3L124.6 43.6L127.0 41.1L125.8 36.8L125.8 33.8L133.2 35.0L135.7 38.1L141.8 36.2L145.5 39.9L150.5 43.6L152.9 45.4L151.7 47.3L148.0 48.9L140.6 49.1L136.9 51.0L142.4 51.3L141.8 53.4L146.8 54.6L141.8 55.9L140.6 57.1L135.7 57.1L135.7 59.3L133.2 59.9L130.7 60.8L130.7 62.6L128.3 65.1L128.9 67.3L125.8 68.8L122.1 71.8L123.3 77.3L123.3 79.2L121.5 79.2L120.2 76.7L118.4 73.7L115.9 73.3L112.2 73.4L109.8 74.6L106.1 74.3L102.4 76.1L101.8 79.2L101.8 83.5L104.2 87.4L109.2 87.8L110.4 84.7L114.7 84.1L114.1 87.8L113.1 90.9L118.4 91.1L119.0 93.3L119.0 97.0L121.5 99.5L124.0 99.1L126.4 100.1L126.4 101.3L123.3 101.5L122.7 100.1L119.6 100.1L115.9 97.0L113.5 94.5L108.5 92.7L105.5 90.9L102.4 90.9L97.4 89.0L91.9 85.9L91.9 82.3L88.8 79.2L83.9 74.9L80.8 71.8L82.6 74.9L84.5 78.0L86.3 82.3L83.9 80.4L81.4 76.1L79.5 73.7L77.7 70.6L75.8 68.8L73.4 68.1L70.9 64.5L69.1 61.4L68.5 57.7L69.1 53.4L68.5 51.2L70.3 50.3L65.4 48.5L64.1 46.7L61.7 43.6L58.0 40.5L54.3 38.7L49.3 37.2L44.4 36.8L40.7 35.6L37.0 35.6L34.5 38.1L32.1 39.3L27.1 41.1L22.2 43.0L19.1 43.6L27.1 38.7L22.2 37.4L18.5 36.2L18.5 33.8L23.4 31.3L17.3 31.3L14.8 30.0L19.7 28.9L16.6 26.6L22.2 24.6L28.6 23.0M132.0 14.7L140.6 11.7L148.0 9.8L172.7 8.0L191.2 8.6L197.3 9.8L201.0 12.3L199.8 16.0L196.1 19.6L194.9 23.3L188.7 26.4L180.1 28.9L172.7 30.7L169.0 36.8L165.3 35.9L160.3 33.1L157.9 30.1L155.4 25.8L155.4 22.7L151.7 19.6L150.5 17.8L141.8 16.9L133.2 15.7L132.0 14.7M146.2 28.9L143.1 32.5L138.1 34.0L133.2 32.5L132.0 30.1L127.0 30.1L130.7 27.6L125.8 25.2L120.9 25.2L118.4 23.3L112.2 21.5L118.4 20.3L125.8 21.4L133.2 22.7L138.1 24.6L141.8 27.0L146.2 28.9M76.5 25.8L86.3 26.4L96.2 26.4L98.7 24.6L95.0 21.5L86.3 20.9L80.2 20.5L75.2 22.7L76.5 25.8M67.8 22.3L74.6 23.0L78.9 20.3L74.0 19.3L67.8 19.6L67.8 22.3M123.3 16.8L114.7 16.6L111.0 14.7L108.5 11.1L123.3 9.2L138.1 8.6L145.5 9.8L135.7 11.7L129.5 13.5L123.3 16.8M123.3 18.9L113.5 19.0L108.5 17.8L112.2 16.3L122.1 16.8L123.3 18.9M92.5 17.8L80.2 17.8L77.7 16.6L88.8 15.3L101.1 14.1L103.6 16.0L92.5 17.8M148.9 52.1L151.1 48.5L153.6 46.9L153.6 49.7L156.6 51.0L157.0 52.8L155.4 53.0L152.9 52.1L148.9 52.1M117.2 83.6L120.9 82.1L126.4 83.6L130.5 85.7L126.4 86.1L121.5 83.4L117.2 83.6M130.2 87.9L132.2 86.1L135.7 86.3L137.6 87.8L134.4 88.6L130.2 87.9M126.4 100.1L128.9 97.6L133.2 95.8L133.8 97.6L138.1 97.6L145.5 97.6L148.0 100.1L151.7 103.1L156.6 103.7L159.1 105.6L160.3 108.7L160.3 110.5L162.8 111.7L167.7 113.6L172.7 114.2L178.8 117.3L178.8 121.5L175.8 125.8L173.9 127.1L173.3 132.6L171.4 137.5L166.5 139.4L162.2 142.4L162.2 145.5L159.1 148.6L156.6 151.6L152.3 154.7L151.1 157.2L145.5 158.4L141.8 160.8L142.4 162.7L141.2 165.8L138.8 167.6L140.6 169.4L136.9 173.1L137.5 175.6L140.0 178.0L134.4 178.0L130.7 174.3L128.9 169.4L130.7 164.5L131.3 159.6L131.3 155.9L133.8 149.8L133.8 147.3L135.1 141.2L135.7 133.2L132.6 130.8L128.3 128.3L125.2 122.8L122.1 117.9L123.3 114.2L123.3 113.0L122.7 110.5L124.6 108.7L126.4 105.6L126.4 101.3M252.8 23.3L256.5 23.3L260.2 24.6L266.4 25.8L272.6 27.6L270.1 29.5L263.9 28.9L262.1 28.2L268.9 31.3L267.6 32.2L272.6 31.3L276.3 29.5L275.6 26.6L278.7 27.0L287.4 26.4L289.8 26.6L296.0 25.8L305.9 26.6L304.6 25.2L311.4 23.3L312.6 20.9L320.7 20.9L329.3 19.6L339.2 17.8L345.3 16.6L351.5 15.1L356.4 16.6L361.4 20.0L370.0 20.9L378.6 20.3L381.1 22.1L388.5 22.7L394.7 21.5L407.0 22.7L419.3 24.6L425.5 25.2L431.7 24.6L439.1 24.8L444.0 26.0M0.0 26.0L6.2 27.6L11.1 28.5L12.3 29.5L9.9 30.7L8.6 31.6L2.5 30.3L0.0 30.7M444.0 30.7L441.5 31.3L440.3 33.8L436.6 35.0L431.7 36.8L425.5 36.8L423.0 39.3L421.8 41.7L419.3 44.2L416.9 46.0L415.0 47.9L414.2 45.4L414.4 40.5L416.9 39.3L419.3 36.2L423.0 35.0L419.3 35.0L413.2 37.4L407.0 37.4L398.4 37.7L392.2 41.1L388.5 43.6L392.2 44.6L395.9 46.0L395.3 50.3L392.2 54.0L388.5 57.1L384.8 57.7L382.3 58.3L381.7 60.8L381.7 65.1L381.1 67.3L378.0 68.1L378.0 64.5L376.2 62.0L375.6 61.4L371.9 62.6L371.2 60.8L367.5 62.6L368.8 64.8L373.1 65.1L370.6 66.3L369.4 68.1L371.2 71.2L372.5 73.7L371.9 76.1L370.0 78.0L367.5 80.4L365.7 82.3L362.0 83.2L358.3 85.3L357.4 84.1L355.2 84.1L353.4 85.9L352.7 87.2L354.0 89.6L356.4 92.1L356.4 95.8L354.0 97.6L351.5 99.9L351.3 98.2L349.0 97.0L347.8 95.2L345.9 93.9L345.3 95.8L344.3 98.2L345.7 100.7L347.2 102.2L349.6 105.0L350.5 108.7L349.6 108.9L346.9 107.1L345.8 105.0L343.5 100.9L343.5 98.2L343.7 94.5L342.6 90.9L341.6 89.8L338.6 90.9L338.6 87.4L336.7 85.9L335.5 84.1L334.9 82.9L333.0 83.5L331.1 83.7L329.3 84.3L328.7 85.9L326.8 86.8L323.8 89.6L321.3 91.5L320.9 94.5L320.4 97.6L318.8 99.5L317.6 100.7L316.4 99.5L314.5 95.2L312.6 91.5L311.8 87.2L311.5 84.3L311.4 83.2L308.9 84.7L307.1 82.9L306.5 81.6L304.6 80.1L304.0 79.2L300.9 79.4L297.9 79.6L292.9 78.9L291.7 77.3L288.6 77.7L286.1 76.4L284.3 74.3L281.8 73.7L281.4 75.5L283.7 78.0L284.7 79.8L285.5 80.8L286.8 80.8L288.6 80.8L291.1 79.1L291.7 80.4L294.1 81.5L295.8 82.9L294.1 85.3L292.9 87.3L290.4 88.8L286.1 90.9L281.8 93.3L277.5 94.8L275.5 94.9L274.8 92.7L274.4 90.2L272.2 86.6L270.1 84.1L268.9 81.0L267.0 78.6L265.2 76.1L264.7 74.3L263.3 76.1L262.2 73.8L261.8 72.2M261.8 72.2L264.3 72.1L265.2 70.0L266.2 67.8L266.6 65.7L264.6 65.3L262.5 66.2L259.6 65.8L256.5 65.4L255.7 64.5L254.7 62.9L254.7 61.1L255.9 60.8L257.8 60.2L260.2 59.9L263.3 58.9L266.4 59.3L269.5 60.3L273.2 59.5L271.3 57.3L268.9 55.9L269.5 54.0L268.2 52.8L265.2 54.0L267.0 54.9L265.8 55.2L263.3 55.9L262.7 54.6L260.9 53.3L259.2 54.6L258.4 55.2L257.3 57.1L256.3 58.6L256.9 59.9L254.1 60.7L254.1 61.3L251.6 60.4L250.4 61.0L251.6 63.7L249.8 65.7L248.8 65.3L247.9 63.5L246.7 62.0L245.9 59.2L244.8 58.3L241.1 56.5L239.3 55.2L238.9 54.5L237.2 54.9L237.4 56.1L239.3 58.3L241.7 59.5L244.8 61.1L243.0 62.6L242.3 63.8L241.4 63.8L241.7 62.0L241.1 61.3L239.3 60.2L236.8 59.2L234.9 57.7L233.7 56.2L231.9 56.6L229.4 57.6L226.3 57.3L225.7 58.9L223.2 60.2L222.0 62.0L221.4 63.2L219.5 65.3L216.4 65.4L215.1 66.3L214.0 65.2L212.8 64.8L210.9 65.1L211.1 63.2L210.3 62.6L211.1 58.9L210.5 57.7L212.1 56.8L215.8 57.1L219.5 57.2L220.2 57.3L220.5 55.2L220.4 53.8L218.9 52.4L216.3 51.6L218.3 50.6L220.2 50.7L220.4 49.5L222.2 49.7L223.8 49.0L225.1 47.9L226.9 47.3L227.9 46.0L228.2 45.2L230.6 44.8L232.7 44.3L232.5 42.5L232.1 40.8L234.9 39.7L234.7 41.1L235.3 41.7L234.3 43.0L235.6 44.2L237.4 43.7L239.5 44.3L241.7 43.8L245.4 43.7L248.1 43.0L247.9 40.8L249.1 39.9L251.8 40.5L251.4 38.7L251.0 37.7L254.1 37.4L258.4 36.8L255.9 36.2L250.4 36.8L248.5 35.6L248.5 33.8L249.8 32.2L252.8 30.7L253.4 30.0L250.4 29.7L248.3 31.3L244.8 33.1L243.3 35.0L243.2 36.2L245.4 37.1L244.2 38.1L242.3 39.9L241.7 41.5L239.9 41.7L238.0 42.5L237.7 41.1L236.6 39.3L235.8 38.1L234.9 37.4L232.5 39.0L230.6 39.3L229.0 38.7L228.4 37.4L228.2 35.6L228.8 34.0L231.9 32.8L234.3 31.9L236.2 30.7L237.7 29.1L239.3 27.6L241.1 26.4L243.0 25.8L245.4 24.6L247.9 24.3L251.0 23.8L252.8 23.3M280.0 55.2L283.7 53.4L287.4 55.2L284.9 58.3L287.4 61.4L288.6 64.5L283.7 65.1L282.4 63.2L283.1 60.8L280.6 58.9L280.0 55.2M261.8 72.2L259.0 72.1L256.5 72.4L252.8 71.2L250.4 70.5L246.9 71.0L246.1 73.1L243.0 72.4L241.1 71.2L236.8 70.0L234.6 68.8L235.6 66.9L234.3 64.8L230.6 65.1L225.7 65.3L220.8 66.9L219.5 67.3L215.8 66.5L214.6 66.9L213.4 69.4L210.3 71.2L209.9 74.3L207.2 76.1L206.0 76.7L204.1 78.6L202.3 81.0L201.0 84.7L202.3 87.2L201.7 90.9L200.4 92.5L201.4 95.2L203.5 97.0L205.3 98.8L206.0 100.7L208.4 102.2L212.1 105.0L217.1 104.1L219.5 104.6L223.2 103.4L224.5 102.8L227.6 102.8L228.2 103.4L229.4 105.0L230.6 105.1L232.5 105.0L233.7 105.8L234.1 107.4L233.5 109.3L233.1 111.7L234.3 113.6L236.2 115.4L236.8 116.6L237.4 117.9L238.0 120.9L238.7 124.0L236.8 127.7L236.6 131.4L238.0 135.1L239.9 138.1L240.5 143.7L242.3 145.6L244.2 149.8L244.6 152.2L246.7 153.2L249.8 152.2L253.4 152.2L255.9 151.0L259.0 148.6L260.6 146.7L262.1 145.5L262.7 143.0L262.5 141.8L265.8 140.0L265.7 137.1L264.9 135.1L267.0 133.5L270.1 131.4L271.9 128.9L272.1 126.1L271.3 123.4L270.5 120.9L270.5 117.9L270.3 116.0L271.9 113.6L273.8 111.7L275.6 109.3L278.7 107.4L281.2 103.7L283.1 100.7L284.9 97.6L285.1 96.0L282.4 96.7L278.1 97.6L276.3 97.6L275.4 96.4L274.7 94.8L273.2 93.3L270.7 91.5L269.9 89.6L268.0 87.8L267.9 84.7L267.0 82.9L265.8 81.0L264.6 78.6L263.3 76.4L262.1 73.8L261.8 72.2M215.2 49.1L217.7 48.7L220.8 48.1L223.6 47.9L224.1 45.8L222.4 45.1L221.4 43.6L220.0 42.2L219.3 41.1L219.8 39.8L218.1 38.6L215.8 38.6L215.1 39.9L214.4 41.1L215.6 42.4L216.1 43.2L218.1 43.2L218.3 44.4L216.3 45.1L216.8 46.0L215.6 47.0L218.3 47.5L216.4 47.6L215.2 49.1M214.6 46.4L214.5 44.8L215.2 43.6L214.0 42.7L212.1 42.7L211.5 43.8L209.7 44.2L210.3 45.4L209.7 46.9L211.5 47.1L214.6 46.4M194.2 31.9L192.4 30.1L194.9 29.0L199.8 29.2L202.3 28.9L204.7 30.1L203.5 31.6L199.2 32.7L194.2 31.9M235.6 14.1L240.5 12.5L246.7 11.9L255.3 12.3L251.6 14.1L247.9 15.3L241.7 16.5L238.0 15.3L235.6 14.1M286.1 22.7L288.6 20.3L292.3 17.8L297.2 16.8L306.5 16.0L300.9 17.8L293.5 20.3L291.1 22.7L289.8 23.8L286.1 22.7M339.2 13.5L344.1 11.7L350.3 12.9L345.3 14.1L339.2 13.5M389.7 19.6L394.7 18.0L403.3 18.0L397.1 20.6L389.7 19.6M0.0 23.3L2.5 22.7L3.7 23.3L0.0 23.3M383.4 68.8L385.4 68.4L388.5 68.0L390.7 68.4L392.8 67.9L394.7 67.5L395.7 66.3L395.9 63.8L397.1 62.0L396.8 60.8L396.3 59.7L394.7 60.2L394.7 61.4L394.4 63.2L392.8 64.5L390.7 64.8L389.7 66.3L388.5 66.8L386.0 66.9L384.2 68.0L383.4 68.8M382.0 69.6L383.6 68.9L384.8 69.4L384.2 71.9L382.6 72.2L382.0 69.6M394.7 59.5L396.8 58.3L399.0 58.9L401.4 57.3L400.2 56.5L396.6 54.8L395.9 57.5L394.7 59.5M397.1 54.0L399.0 53.4L398.4 50.3L400.2 50.3L398.4 46.0L398.0 43.8L397.1 45.4L397.1 49.1L396.9 53.4L397.1 54.0M370.2 82.6L371.2 83.6L372.5 79.8L371.9 79.4L370.2 82.6M355.9 87.2L357.7 88.2L358.9 86.4L357.9 85.8L355.9 87.2M370.0 87.8L372.8 87.8L372.5 90.2L374.9 94.5L372.1 93.3L370.6 92.7L370.0 90.2L370.0 87.8M372.5 101.9L378.0 102.5L377.4 98.8L374.3 100.1L372.5 101.9M372.5 96.0L374.9 95.2L376.8 97.0L373.7 98.8L372.5 96.0M356.4 108.3L357.1 111.7L357.7 114.2L363.2 115.2L365.7 113.0L367.3 109.3L368.8 104.4L366.3 101.9L364.4 104.4L361.4 106.6L358.9 108.4L356.4 108.3M339.5 103.6L342.9 105.6L345.9 108.0L350.3 111.7L352.7 114.2L352.7 117.7L350.9 117.6L347.2 114.2L344.1 110.5L341.6 107.4L339.5 103.6M352.1 118.8L355.2 118.5L358.9 118.5L363.2 120.1L363.2 121.2L357.7 120.6L352.1 118.8M369.4 117.3L370.6 113.0L369.4 110.5L370.6 109.0L376.2 108.7L371.9 111.7L374.3 116.0L371.2 116.0L370.6 117.4L369.4 117.3M383.6 111.7L388.5 114.8L392.2 112.3L395.9 113.7L401.8 116.4L403.9 117.9L403.9 120.3L407.0 123.4L402.1 120.9L399.0 121.5L395.9 121.8L392.2 120.7L391.6 116.6L385.4 115.4L383.6 111.7M362.0 137.5L362.6 143.0L363.8 147.3L363.8 152.2L367.5 153.5L374.3 152.2L381.1 149.3L384.8 149.8L388.5 153.1L392.2 153.5L394.7 157.2L400.2 157.4L402.7 158.4L407.0 156.5L409.5 151.0L410.7 148.6L411.3 144.9L410.7 141.2L406.4 137.9L402.1 133.2L401.2 128.9L399.0 127.7L397.8 123.8L396.5 126.5L396.5 131.4L394.7 132.2L390.4 129.8L391.0 125.2L385.4 124.6L382.3 126.5L381.7 128.9L379.2 127.7L376.2 128.9L373.1 131.4L371.2 134.4L367.5 135.7L362.6 137.3L362.0 137.5M400.5 160.5L404.9 160.8L404.3 163.5L402.1 163.9L400.5 160.5M435.0 152.7L437.2 155.3L439.1 156.7L442.1 156.8L441.4 158.6L439.7 160.2L437.8 161.5L437.3 159.4L436.4 158.6L437.3 155.9L435.0 152.7M435.0 160.2L437.0 161.5L435.4 164.2L432.9 165.4L430.4 167.7L427.4 167.0L429.2 164.5L432.9 162.1L435.0 160.2M282.8 125.2L284.3 129.5L283.1 132.0L280.0 141.2L277.5 141.8L275.9 137.5L276.6 131.4L279.4 129.5L282.8 125.2M320.4 103.1L320.7 98.5L322.9 101.3L322.5 102.9L320.4 103.1M0.0 205.7L12.3 206.6L24.7 206.9L37.0 204.4L49.3 202.6L61.7 201.7L74.0 201.1L86.3 202.0L98.7 200.7L111.0 199.9L123.3 200.4L129.5 198.9L135.7 195.8L139.4 192.8L144.3 190.3L151.7 188.2L149.2 189.7L146.8 192.1L145.5 195.2L146.8 198.9L145.5 202.0L150.5 203.8L160.3 206.0L170.2 206.5L178.8 206.0L187.5 203.8L197.3 200.7L203.5 199.5L209.7 197.7L222.0 196.4L231.9 196.4L240.5 196.4L252.8 196.8L262.7 195.6L271.3 194.6L280.0 193.4L289.8 192.1L298.5 193.4L308.3 194.0L310.8 196.4L314.5 195.6L320.7 193.4L330.5 192.1L339.2 191.9L345.3 191.5L357.7 191.5L367.5 192.5L376.2 192.1L388.5 191.5L397.1 192.5L407.0 194.6L419.3 196.4L429.2 198.0L431.7 199.5L428.0 203.8L423.0 205.7L429.2 206.9L444.0 205.7M78.9 19.0L86.3 18.7L92.5 18.0L91.3 16.8L83.9 16.6L77.7 17.2L78.9 19.0M97.4 18.0L101.1 18.2L101.8 16.8L97.4 16.6L97.4 18.0M96.2 22.1L102.4 22.3L103.6 20.3L98.7 19.6L96.2 22.1M104.8 21.7L110.4 21.1L109.8 19.6L104.8 19.9L104.8 21.7M104.8 14.7L113.5 14.4L114.7 11.7L107.3 10.8L103.6 12.3L104.8 14.7M114.7 32.5L122.1 32.2L120.9 30.1L115.9 29.5L114.7 32.5M99.9 26.4L103.6 26.3L103.6 25.0L99.9 24.9L99.9 26.4M71.5 17.4L80.2 16.6L78.9 15.5L72.8 16.0L71.5 17.4M91.3 15.3L98.7 14.7L97.4 13.5L91.3 13.8L91.3 15.3M278.7 11.7L286.1 10.4L296.0 10.1L298.5 11.7L289.8 12.3L278.7 11.7M103.6 19.0L107.3 18.8L107.3 17.7L103.6 17.8L103.6 19.0" fill="none" stroke="#f4f4f4" stroke-width="1.15" stroke-linejoin="round" opacity="0.8"/>
<g stroke="#e6c39a" stroke-width="1" opacity="0.85"><line x1="0" y1="0.5" x2="444" y2="0.5"/><line x1="0" y1="220.5" x2="444" y2="220.5"/><line x1="0.5" y1="0" x2="0.5" y2="24"/><line x1="0.5" y1="186" x2="0.5" y2="221"/><line x1="443.5" y1="0" x2="443.5" y2="23"/><line x1="443.5" y1="185" x2="443.5" y2="221"/></g>
</svg>
<svg class="abs" width="940" height="562" style="left:0;top:0"><g stroke="#c8c8c8" stroke-width="1"><line x1="525.3" y1="183.0" x2="525.3" y2="388.0"/><line x1="535.7" y1="183.0" x2="535.7" y2="388.0"/><line x1="546.1" y1="183.0" x2="546.1" y2="388.0"/><line x1="556.5" y1="183.0" x2="556.5" y2="388.0"/><line x1="567.0" y1="183.0" x2="567.0" y2="388.0"/><line x1="577.4" y1="183.0" x2="577.4" y2="388.0"/><line x1="587.8" y1="183.0" x2="587.8" y2="388.0"/><line x1="598.2" y1="183.0" x2="598.2" y2="388.0"/><line x1="525.3" y1="388.0" x2="598.2" y2="388.0"/></g><rect x="525.3" y="183.00" width="72.9" height="5.86" fill="#fa0000"/><rect x="525.3" y="186.63" width="72.9" height="1.99" fill="#b40008"/><rect x="525.3" y="188.86" width="72.9" height="5.86" fill="#fa0000"/><rect x="525.3" y="192.49" width="72.9" height="1.99" fill="#b40008"/><rect x="525.3" y="194.71" width="72.9" height="5.86" fill="#fa0000"/><rect x="525.3" y="198.35" width="72.9" height="1.99" fill="#b40008"/><rect x="525.3" y="200.57" width="72.9" height="5.86" fill="#fa0000"/><rect x="525.3" y="204.20" width="72.9" height="1.99" fill="#b40008"/><rect x="525.3" y="206.43" width="72.9" height="5.86" fill="#fa0000"/><rect x="525.3" y="210.06" width="72.9" height="1.99" fill="#b40008"/><rect x="525.3" y="212.29" width="72.9" height="5.86" fill="#fa0000"/><rect x="525.3" y="215.92" width="72.9" height="1.99" fill="#b40008"/><rect x="525.3" y="218.14" width="72.9" height="5.86" fill="#fa0000"/><rect x="525.3" y="221.77" width="72.9" height="1.99" fill="#b40008"/><rect x="525.3" y="224.00" width="72.9" height="5.86" fill="#fa0000"/><rect x="525.3" y="227.63" width="72.9" height="1.99" fill="#b40008"/><rect x="525.3" y="229.86" width="72.9" height="5.86" fill="#fa0000"/><rect x="525.3" y="233.49" width="72.9" height="1.99" fill="#b40008"/><rect x="525.3" y="235.71" width="72.9" height="5.86" fill="#fa0000"/><rect x="525.3" y="239.35" width="72.9" height="1.99" fill="#b40008"/><rect x="525.3" y="241.57" width="66.8" height="5.86" fill="#fa0000"/><rect x="525.3" y="245.20" width="66.8" height="1.99" fill="#b40008"/><rect x="525.3" y="247.43" width="60.2" height="5.86" fill="#fa0000"/><rect x="525.3" y="251.06" width="60.2" height="1.99" fill="#b40008"/><rect x="525.3" y="253.29" width="54.6" height="5.86" fill="#fa0000"/><rect x="525.3" y="256.92" width="54.6" height="1.99" fill="#b40008"/><rect x="525.3" y="259.14" width="49.8" height="5.86" fill="#fa0000"/><rect x="525.3" y="262.77" width="49.8" height="1.99" fill="#b40008"/><rect x="525.3" y="265.00" width="45.5" height="5.86" fill="#fa0000"/><rect x="525.3" y="268.63" width="45.5" height="1.99" fill="#b40008"/><rect x="525.3" y="270.86" width="41.8" height="5.86" fill="#fa0000"/><rect x="525.3" y="274.49" width="41.8" height="1.99" fill="#b40008"/><rect x="525.3" y="276.71" width="38.5" height="5.86" fill="#fa0000"/><rect x="525.3" y="280.35" width="38.5" height="1.99" fill="#b40008"/><rect x="525.3" y="282.57" width="35.6" height="5.86" fill="#fa0000"/><rect x="525.3" y="286.20" width="35.6" height="1.99" fill="#b40008"/><rect x="525.3" y="288.43" width="33.0" height="5.86" fill="#fa0000"/><rect x="525.3" y="292.06" width="33.0" height="1.99" fill="#b40008"/><rect x="525.3" y="294.29" width="30.7" height="5.86" fill="#fa0000"/><rect x="525.3" y="297.92" width="30.7" height="1.99" fill="#b40008"/><rect x="525.3" y="300.14" width="28.6" height="5.86" fill="#fa0000"/><rect x="525.3" y="303.77" width="28.6" height="1.99" fill="#b40008"/><rect x="525.3" y="306.00" width="26.7" height="5.86" fill="#fa0000"/><rect x="525.3" y="309.63" width="26.7" height="1.99" fill="#b40008"/><rect x="525.3" y="311.86" width="25.0" height="5.86" fill="#fa0000"/><rect x="525.3" y="315.49" width="25.0" height="1.99" fill="#b40008"/><rect x="525.3" y="317.71" width="23.5" height="5.86" fill="#fa0000"/><rect x="525.3" y="321.35" width="23.5" height="1.99" fill="#b40008"/><rect x="525.3" y="323.57" width="22.1" height="5.86" fill="#fa0000"/><rect x="525.3" y="327.20" width="22.1" height="1.99" fill="#b40008"/><rect x="525.3" y="329.43" width="20.8" height="5.86" fill="#fa0000"/><rect x="525.3" y="333.06" width="20.8" height="1.99" fill="#b40008"/><rect x="525.3" y="335.29" width="19.6" height="5.86" fill="#fa0000"/><rect x="525.3" y="338.92" width="19.6" height="1.99" fill="#b40008"/><rect x="525.3" y="341.14" width="18.5" height="5.86" fill="#fa0000"/><rect x="525.3" y="344.77" width="18.5" height="1.99" fill="#b40008"/><rect x="525.3" y="347.00" width="17.6" height="5.86" fill="#fa0000"/><rect x="525.3" y="350.63" width="17.6" height="1.99" fill="#b40008"/><rect x="525.3" y="352.86" width="16.6" height="5.86" fill="#fa0000"/><rect x="525.3" y="356.49" width="16.6" height="1.99" fill="#b40008"/><rect x="525.3" y="358.71" width="15.8" height="5.86" fill="#fa0000"/><rect x="525.3" y="362.35" width="15.8" height="1.99" fill="#b40008"/><rect x="525.3" y="364.57" width="15.0" height="5.86" fill="#fa0000"/><rect x="525.3" y="368.20" width="15.0" height="1.99" fill="#b40008"/><rect x="525.3" y="370.43" width="14.3" height="5.86" fill="#fa0000"/><rect x="525.3" y="374.06" width="14.3" height="1.99" fill="#b40008"/><rect x="525.3" y="376.29" width="13.6" height="5.86" fill="#fa0000"/><rect x="525.3" y="379.92" width="13.6" height="1.99" fill="#b40008"/><rect x="525.3" y="382.14" width="13.0" height="5.86" fill="#fa0000"/><rect x="525.3" y="385.77" width="13.0" height="1.99" fill="#b40008"/><g stroke="#ffd0c0" stroke-width="0.8" opacity="0.3"><line x1="525.3" y1="183.0" x2="525.3" y2="388.0"/><line x1="535.7" y1="183.0" x2="535.7" y2="388.0"/><line x1="546.1" y1="183.0" x2="546.1" y2="388.0"/><line x1="556.5" y1="183.0" x2="556.5" y2="388.0"/><line x1="567.0" y1="183.0" x2="567.0" y2="388.0"/><line x1="577.4" y1="183.0" x2="577.4" y2="388.0"/><line x1="587.8" y1="183.0" x2="587.8" y2="388.0"/><line x1="598.2" y1="183.0" x2="598.2" y2="388.0"/></g><line x1="525.3" y1="183.0" x2="598.2" y2="183.0" stroke="#f0c0a0" stroke-width="0.8" opacity="0.7"/></svg>
<div id="legend"></div>
<div id="cbar"></div>
<div id="rec"></div>
<div id="blk"></div>
<div id="foot"></div>
<svg class="abs" style="left:20px;top:515px" width="50" height="47" viewBox="0 0 50 47">
 <circle cx="28.9" cy="23.8" r="20.6" fill="#f4f8fc"/>
 <circle cx="28.9" cy="23.8" r="19.7" fill="#1b8bd8"/>
 <path d="M10.1 17.1 A19.7 19.7 0 0 1 46.6 15.4 C40 20 33 24 27.6 26.5 C22 23.5 16 19.5 10.1 17.1 Z" fill="#15236e"/>
 <path d="M9.2 18.8 C16 21 22 25 27.6 28.3 C33 25.5 40 21.5 47.4 17.2" fill="none" stroke="#ffffff" stroke-width="3.4"/>
 <path d="M21 31.5 C26 30.5 32 28 37.5 27.3 C32 29.5 27 32 22.5 32.8 Z" fill="#ffffff"/>
 <text x="28.6" y="17.2" font-family="Liberation Sans" font-weight="bold" font-size="6.2" fill="#ffffff" text-anchor="middle" letter-spacing="0.2">NOAA</text>
</svg>
<div class="t" style="top:5.70px;font-size:34.5px;color:#ffffff;letter-spacing:0.461px;left:109.70px;-webkit-text-stroke:0.8px #fff;">POLAR CAP ABSORPTION (PCA) Event</div>
<div class="t" style="top:53.99px;font-size:19.5px;color:#222222;letter-spacing:1.264px;left:113.20px;-webkit-text-stroke:0.5px #222;">WHAT: A solar energetic proton event is in progress; resulted in a PCA Event</div>
<div class="t" style="top:18.25px;font-size:14px;color:#161616;letter-spacing:0.500px;font-weight:bold;left:846.40px;-webkit-text-stroke:0.3px #161616;">PCA</div>
<div class="t" style="top:110.16px;font-size:17.3px;color:#eeeeee;letter-spacing:0.035px;font-style:italic;left:182.20px;">Primary Area of Impacts: Polar Regions</div>
<div class="t" style="top:110.52px;font-size:19px;color:#f3d43a;letter-spacing:1.580px;right:41.50px;-webkit-text-stroke:0.55px #f3d43a;">EVENT:</div>
<div class="t" style="top:135.26px;font-size:18px;color:#c9d7ef;letter-spacing:0.788px;right:42.72px;-webkit-text-stroke:0.55px #c9d7ef;">The solar radiation storm</div>
<div class="t" style="top:157.06px;font-size:18px;color:#c9d7ef;letter-spacing:0.723px;right:43.77px;-webkit-text-stroke:0.55px #c9d7ef;">responsible for the PCA</div>
<div class="t" style="top:179.16px;font-size:18px;color:#c9d7ef;letter-spacing:0.523px;right:43.34px;-webkit-text-stroke:0.55px #c9d7ef;">began on 18 Jul UTC-day</div>
<div class="t" style="top:248.32px;font-size:19px;color:#f3d43a;letter-spacing:1.267px;right:40.86px;-webkit-text-stroke:0.55px #f3d43a;">TIMING:</div>
<div class="t" style="top:272.16px;font-size:18px;color:#c9d7ef;letter-spacing:0.643px;right:43.20px;-webkit-text-stroke:0.55px #c9d7ef;">The PCA event began at</div>
<div class="t" style="top:294.76px;font-size:18px;color:#c9d7ef;letter-spacing:0.780px;right:42.19px;-webkit-text-stroke:0.55px #c9d7ef;">18/0115 UTC</div>
<div class="t" style="top:317.76px;font-size:18px;color:#c9d7ef;letter-spacing:0.583px;right:42.36px;-webkit-text-stroke:0.55px #c9d7ef;">(17 Jul 9:15pm EDT)</div>
<div class="t" style="top:388.82px;font-size:19px;color:#f3d43a;letter-spacing:0.371px;right:42.69px;-webkit-text-stroke:0.55px #f3d43a;">EFFECTS:</div>
<div class="t" style="top:412.46px;font-size:18px;color:#c9d7ef;letter-spacing:0.638px;right:43.45px;-webkit-text-stroke:0.55px #c9d7ef;">Loss of HF communications</div>
<div class="t" style="top:434.56px;font-size:18px;color:#c9d7ef;letter-spacing:0.853px;right:42.33px;-webkit-text-stroke:0.55px #c9d7ef;">in the polar regions</div>
<div class="t" style="top:393.07px;font-size:9.6px;color:#555555;letter-spacing:1.035px;left:86.80px;">Highest Frequency Affected by 1dB Absorption</div>
<div class="t" style="top:426.00px;font-size:8.5px;color:#555555;letter-spacing:0.522px;left:149.00px;">Degraded Frequency (MHz)</div>
<div class="t" style="top:448.34px;font-size:10px;color:#555555;letter-spacing:1.033px;left:52.30px;">Elevated X-ray flux</div>
<div class="t" style="top:460.84px;font-size:10px;color:#555555;letter-spacing:1.216px;left:52.30px;">Product Valid At : 2023-07-18 12:39 UTC</div>
<div class="t" style="top:448.14px;font-size:10px;color:#555555;letter-spacing:0.879px;left:340.50px;">Moderate Proton Flux</div>
<div class="t" style="top:460.74px;font-size:10px;color:#555555;letter-spacing:0.550px;left:340.50px;">NOAA/SWPC Boulder, CO USA</div>
<div class="t" style="top:390.85px;font-size:7.5px;color:#d2e8ff;letter-spacing:0.059px;font-weight:bold;left:377.70px;">Estimated Recovery Time</div>
<div class="t" style="top:398.75px;font-size:7.5px;color:#0e4fae;letter-spacing:0.305px;font-weight:bold;left:377.70px;">High Latitude Protons</div>
<div class="t" style="top:407.54px;font-size:10px;color:#0e4fae;letter-spacing:0.208px;left:400.00px;">27 HRS 22 MINS</div>
<div class="t" style="top:418.15px;font-size:7.5px;color:#0e4fae;letter-spacing:0.562px;font-weight:bold;left:377.70px;">Mid/Low Latitude X-rays :</div>
<div class="t" style="top:426.04px;font-size:10px;color:#0e4fae;letter-spacing:0.340px;left:409.40px;">No Estimate</div>
<div class="t" style="top:164.57px;font-size:8.3px;color:#d0d0d0;letter-spacing:1.030px;left:527.20px;">Attenuation</div>
<div class="t" style="top:172.41px;font-size:7.2px;color:#d0d0d0;letter-spacing:0.784px;left:510.00px;">(Maximum Absorption)</div>
<div class="t" style="top:404.96px;font-size:9.5px;color:#c8c8c8;letter-spacing:0.000px;left:553.60px;transform:translateX(-50%);">dB</div>
<div class="t" style="top:522.53px;font-size:10px;color:#2f5c9e;letter-spacing:0.142px;font-weight:bold;left:79.40px;">National Oceanic and</div>
<div class="t" style="top:534.33px;font-size:10px;color:#2f5c9e;letter-spacing:0.064px;font-weight:bold;left:79.40px;">Atmospheric Administration</div>
<div class="t" style="top:547.34px;font-size:5.5px;color:#7a7a7a;letter-spacing:0.138px;left:79.40px;">U.S. Department of Commerce</div>
<div class="t" style="top:531.12px;font-size:13.8px;color:#3a66aa;letter-spacing:-0.089px;font-style:italic;left:255.20px;">Safeguarding Society with Actionable Space Weather Information</div>
<div class="t" style="top:525.00px;font-size:13px;color:#34558a;letter-spacing:-0.097px;font-weight:bold;right:29.03px;">Space Weather Prediction Center;</div>
<div class="t" style="top:540.30px;font-size:13px;color:#34558a;letter-spacing:-0.200px;font-weight:bold;right:30.48px;">Boulder, CO</div>
<svg class="abs" style="left:0;top:0" width="940" height="562"><rect x="54.5" y="403.4" width="310.2" height="9.2" fill="none" stroke="#222" stroke-opacity="0.35" stroke-width="0.8"/><g stroke="#111" stroke-opacity="0.55" stroke-width="1"><line x1="54.5" y1="403.4" x2="54.5" y2="406" /><line x1="54.5" y1="410" x2="54.5" y2="412.6" /><line x1="98.8" y1="403.4" x2="98.8" y2="406" /><line x1="98.8" y1="410" x2="98.8" y2="412.6" /><line x1="143.1" y1="403.4" x2="143.1" y2="406" /><line x1="143.1" y1="410" x2="143.1" y2="412.6" /><line x1="187.4" y1="403.4" x2="187.4" y2="406" /><line x1="187.4" y1="410" x2="187.4" y2="412.6" /><line x1="231.8" y1="403.4" x2="231.8" y2="406" /><line x1="231.8" y1="410" x2="231.8" y2="412.6" /><line x1="276.1" y1="403.4" x2="276.1" y2="406" /><line x1="276.1" y1="410" x2="276.1" y2="412.6" /><line x1="320.4" y1="403.4" x2="320.4" y2="406" /><line x1="320.4" y1="410" x2="320.4" y2="412.6" /><line x1="364.7" y1="403.4" x2="364.7" y2="406" /><line x1="364.7" y1="410" x2="364.7" y2="412.6" /></g></svg>
<div class="t" style="left:54.5px;top:417.28px;font-size:7.7px;color:#666;width:20px;margin-left:-10px;text-align:center">0</div>
<div class="t" style="left:98.8px;top:417.28px;font-size:7.7px;color:#666;width:20px;margin-left:-10px;text-align:center">5</div>
<div class="t" style="left:143.1px;top:417.28px;font-size:7.7px;color:#666;width:20px;margin-left:-10px;text-align:center">10</div>
<div class="t" style="left:187.4px;top:417.28px;font-size:7.7px;color:#666;width:20px;margin-left:-10px;text-align:center">15</div>
<div class="t" style="left:231.8px;top:417.28px;font-size:7.7px;color:#666;width:20px;margin-left:-10px;text-align:center">20</div>
<div class="t" style="left:276.1px;top:417.28px;font-size:7.7px;color:#666;width:20px;margin-left:-10px;text-align:center">25</div>
<div class="t" style="left:320.4px;top:417.28px;font-size:7.7px;color:#666;width:20px;margin-left:-10px;text-align:center">30</div>
<div class="t" style="left:364.7px;top:417.28px;font-size:7.7px;color:#666;width:20px;margin-left:-10px;text-align:center">35</div>
<div class="t" style="right:417.7px;top:195.85px;font-size:8.8px;color:#d0d0d0">5</div>
<div class="t" style="right:417.7px;top:225.75px;font-size:8.8px;color:#d0d0d0">10</div>
<div class="t" style="right:417.7px;top:256.75px;font-size:8.8px;color:#d0d0d0">15</div>
<div class="t" style="right:417.7px;top:288.55px;font-size:8.8px;color:#d0d0d0">20</div>
<div class="t" style="right:417.7px;top:318.95px;font-size:8.8px;color:#d0d0d0">25</div>
<div class="t" style="right:417.7px;top:349.75px;font-size:8.8px;color:#d0d0d0">30</div>
<div class="t" style="right:417.7px;top:380.55px;font-size:8.8px;color:#d0d0d0">35</div>
<div class="t" style="left:525.3px;top:391.77px;font-size:7px;color:#d0d0d0;width:20px;margin-left:-10px;text-align:center;letter-spacing:-0.3px">0</div>
<div class="t" style="left:535.7px;top:391.77px;font-size:7px;color:#d0d0d0;width:20px;margin-left:-10px;text-align:center;letter-spacing:-0.3px">5</div>
<div class="t" style="left:546.1px;top:391.77px;font-size:7px;color:#d0d0d0;width:20px;margin-left:-10px;text-align:center;letter-spacing:-0.3px">10</div>
<div class="t" style="left:556.5px;top:391.77px;font-size:7px;color:#d0d0d0;width:20px;margin-left:-10px;text-align:center;letter-spacing:-0.3px">15</div>
<div class="t" style="left:567.0px;top:391.77px;font-size:7px;color:#d0d0d0;width:20px;margin-left:-10px;text-align:center;letter-spacing:-0.3px">20</div>
<div class="t" style="left:577.4px;top:391.77px;font-size:7px;color:#d0d0d0;width:20px;margin-left:-10px;text-align:center;letter-spacing:-0.3px">25</div>
<div class="t" style="left:587.8px;top:391.77px;font-size:7px;color:#d0d0d0;width:20px;margin-left:-10px;text-align:center;letter-spacing:-0.3px">30</div>
<div class="t" style="left:598.2px;top:391.77px;font-size:7px;color:#d0d0d0;width:20px;margin-left:-10px;text-align:center;letter-spacing:-0.3px">35</div>
<div class="t" style="left:503.5px;top:272px;font-size:7.5px;color:#d0d0d0;transform:rotate(-90deg);transform-origin:50% 50%;width:20px;text-align:center">MHz</div>
</body></html>
